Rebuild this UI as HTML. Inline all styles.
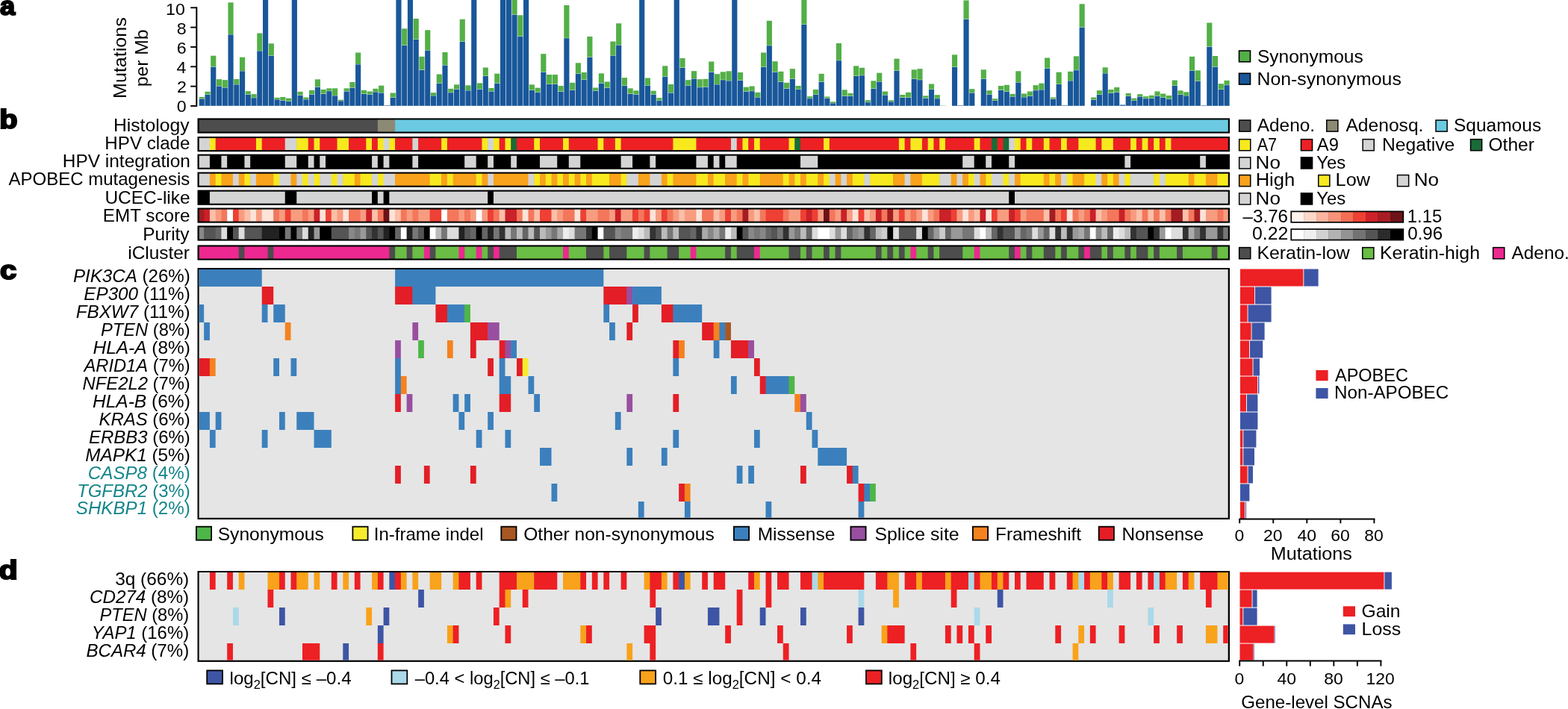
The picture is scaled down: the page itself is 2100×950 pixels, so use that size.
<!DOCTYPE html>
<html lang="en"><head><meta charset="utf-8"><title>Figure 1</title>
<style>
html,body{margin:0;padding:0;background:#fff;}
body{width:2100px;height:950px;overflow:hidden;}
svg{display:block;font-family:"Liberation Sans",sans-serif;}
</style></head><body>
<svg width="2100" height="950" viewBox="0 0 2100 950">
<rect width="2100" height="950" fill="#fff"/>
<g>
<rect x="266.67" y="132.50" width="7.15" height="9.30" fill="#19579a"/>
<rect x="266.67" y="130.00" width="7.15" height="2.15" fill="#53af47"/>
<rect x="274.43" y="127.00" width="7.15" height="14.80" fill="#19579a"/>
<rect x="274.43" y="122.83" width="7.15" height="3.82" fill="#53af47"/>
<rect x="282.18" y="89.67" width="7.15" height="52.13" fill="#19579a"/>
<rect x="282.18" y="74.67" width="7.15" height="14.65" fill="#53af47"/>
<rect x="289.94" y="115.50" width="7.15" height="26.30" fill="#19579a"/>
<rect x="289.94" y="106.17" width="7.15" height="8.98" fill="#53af47"/>
<rect x="297.69" y="117.50" width="7.15" height="24.30" fill="#19579a"/>
<rect x="297.69" y="107.17" width="7.15" height="9.98" fill="#53af47"/>
<rect x="305.45" y="46.33" width="7.15" height="95.47" fill="#19579a"/>
<rect x="305.45" y="3.33" width="7.15" height="42.65" fill="#53af47"/>
<rect x="313.21" y="113.33" width="7.15" height="28.47" fill="#19579a"/>
<rect x="313.21" y="106.00" width="7.15" height="6.98" fill="#53af47"/>
<rect x="320.96" y="95.33" width="7.15" height="46.47" fill="#19579a"/>
<rect x="320.96" y="76.67" width="7.15" height="18.32" fill="#53af47"/>
<rect x="328.72" y="126.67" width="7.15" height="15.13" fill="#19579a"/>
<rect x="328.72" y="122.17" width="7.15" height="4.15" fill="#53af47"/>
<rect x="336.47" y="131.17" width="7.15" height="10.63" fill="#19579a"/>
<rect x="336.47" y="126.17" width="7.15" height="4.65" fill="#53af47"/>
<rect x="344.23" y="68.33" width="7.15" height="73.47" fill="#19579a"/>
<rect x="344.23" y="44.50" width="7.15" height="23.48" fill="#53af47"/>
<rect x="351.99" y="0.00" width="7.15" height="141.80" fill="#19579a"/>
<rect x="359.74" y="74.67" width="7.15" height="67.13" fill="#19579a"/>
<rect x="359.74" y="58.33" width="7.15" height="15.98" fill="#53af47"/>
<rect x="367.50" y="133.33" width="7.15" height="8.47" fill="#19579a"/>
<rect x="367.50" y="130.83" width="7.15" height="2.15" fill="#53af47"/>
<rect x="375.25" y="134.67" width="7.15" height="7.13" fill="#19579a"/>
<rect x="375.25" y="130.00" width="7.15" height="4.32" fill="#53af47"/>
<rect x="383.01" y="135.83" width="7.15" height="5.97" fill="#19579a"/>
<rect x="383.01" y="131.67" width="7.15" height="3.82" fill="#53af47"/>
<rect x="390.77" y="0.00" width="7.15" height="141.80" fill="#19579a"/>
<rect x="398.52" y="127.83" width="7.15" height="13.97" fill="#19579a"/>
<rect x="398.52" y="122.83" width="7.15" height="4.65" fill="#53af47"/>
<rect x="406.28" y="133.33" width="7.15" height="8.47" fill="#19579a"/>
<rect x="406.28" y="130.50" width="7.15" height="2.48" fill="#53af47"/>
<rect x="414.03" y="126.67" width="7.15" height="15.13" fill="#19579a"/>
<rect x="414.03" y="120.83" width="7.15" height="5.48" fill="#53af47"/>
<rect x="421.79" y="116.67" width="7.15" height="25.13" fill="#19579a"/>
<rect x="421.79" y="106.33" width="7.15" height="9.98" fill="#53af47"/>
<rect x="429.55" y="125.83" width="7.15" height="15.97" fill="#19579a"/>
<rect x="429.55" y="120.00" width="7.15" height="5.48" fill="#53af47"/>
<rect x="437.30" y="122.17" width="7.15" height="19.63" fill="#19579a"/>
<rect x="437.30" y="118.33" width="7.15" height="3.48" fill="#53af47"/>
<rect x="445.06" y="128.33" width="7.15" height="13.47" fill="#19579a"/>
<rect x="445.06" y="118.33" width="7.15" height="9.65" fill="#53af47"/>
<rect x="452.81" y="135.33" width="7.15" height="6.47" fill="#19579a"/>
<rect x="452.81" y="133.67" width="7.15" height="1.32" fill="#53af47"/>
<rect x="460.57" y="122.50" width="7.15" height="19.30" fill="#19579a"/>
<rect x="460.57" y="118.33" width="7.15" height="3.82" fill="#53af47"/>
<rect x="468.33" y="118.00" width="7.15" height="23.80" fill="#19579a"/>
<rect x="468.33" y="110.00" width="7.15" height="7.65" fill="#53af47"/>
<rect x="476.08" y="86.33" width="7.15" height="55.47" fill="#19579a"/>
<rect x="476.08" y="70.50" width="7.15" height="15.48" fill="#53af47"/>
<rect x="483.84" y="125.83" width="7.15" height="15.97" fill="#19579a"/>
<rect x="483.84" y="120.83" width="7.15" height="4.65" fill="#53af47"/>
<rect x="491.59" y="126.67" width="7.15" height="15.13" fill="#19579a"/>
<rect x="491.59" y="122.50" width="7.15" height="3.82" fill="#53af47"/>
<rect x="499.35" y="123.33" width="7.15" height="18.47" fill="#19579a"/>
<rect x="499.35" y="118.83" width="7.15" height="4.15" fill="#53af47"/>
<rect x="507.11" y="124.50" width="7.15" height="17.30" fill="#19579a"/>
<rect x="507.11" y="114.67" width="7.15" height="9.48" fill="#53af47"/>
<rect x="514.86" y="141.10" width="7.15" height="0.70" fill="#4a6f9e"/>
<rect x="522.62" y="130.83" width="7.15" height="10.97" fill="#19579a"/>
<rect x="522.62" y="124.50" width="7.15" height="5.98" fill="#53af47"/>
<rect x="530.37" y="0.00" width="7.15" height="141.80" fill="#19579a"/>
<rect x="538.13" y="60.83" width="7.15" height="80.97" fill="#19579a"/>
<rect x="538.13" y="38.33" width="7.15" height="22.15" fill="#53af47"/>
<rect x="545.89" y="0.00" width="7.15" height="141.80" fill="#19579a"/>
<rect x="553.64" y="52.83" width="7.15" height="88.97" fill="#19579a"/>
<rect x="553.64" y="25.00" width="7.15" height="27.48" fill="#53af47"/>
<rect x="561.40" y="93.83" width="7.15" height="47.97" fill="#19579a"/>
<rect x="561.40" y="75.83" width="7.15" height="17.65" fill="#53af47"/>
<rect x="569.15" y="67.50" width="7.15" height="74.30" fill="#19579a"/>
<rect x="569.15" y="40.33" width="7.15" height="26.82" fill="#53af47"/>
<rect x="576.91" y="128.33" width="7.15" height="13.47" fill="#19579a"/>
<rect x="576.91" y="124.17" width="7.15" height="3.82" fill="#53af47"/>
<rect x="584.67" y="111.67" width="7.15" height="30.13" fill="#19579a"/>
<rect x="584.67" y="99.50" width="7.15" height="11.82" fill="#53af47"/>
<rect x="592.42" y="87.50" width="7.15" height="54.30" fill="#19579a"/>
<rect x="592.42" y="70.00" width="7.15" height="17.15" fill="#53af47"/>
<rect x="600.18" y="124.17" width="7.15" height="17.63" fill="#19579a"/>
<rect x="600.18" y="118.83" width="7.15" height="4.98" fill="#53af47"/>
<rect x="607.93" y="119.67" width="7.15" height="22.13" fill="#19579a"/>
<rect x="607.93" y="113.33" width="7.15" height="5.98" fill="#53af47"/>
<rect x="615.69" y="55.83" width="7.15" height="85.97" fill="#19579a"/>
<rect x="615.69" y="25.83" width="7.15" height="29.65" fill="#53af47"/>
<rect x="623.45" y="121.33" width="7.15" height="20.47" fill="#19579a"/>
<rect x="623.45" y="114.33" width="7.15" height="6.65" fill="#53af47"/>
<rect x="631.20" y="0.00" width="7.15" height="141.80" fill="#19579a"/>
<rect x="638.96" y="119.67" width="7.15" height="22.13" fill="#19579a"/>
<rect x="638.96" y="111.33" width="7.15" height="7.98" fill="#53af47"/>
<rect x="646.71" y="102.00" width="7.15" height="39.80" fill="#19579a"/>
<rect x="646.71" y="90.50" width="7.15" height="11.15" fill="#53af47"/>
<rect x="654.47" y="122.50" width="7.15" height="19.30" fill="#19579a"/>
<rect x="654.47" y="118.00" width="7.15" height="4.15" fill="#53af47"/>
<rect x="662.23" y="111.67" width="7.15" height="30.13" fill="#19579a"/>
<rect x="662.23" y="98.67" width="7.15" height="12.65" fill="#53af47"/>
<rect x="669.98" y="0.00" width="7.15" height="141.80" fill="#19579a"/>
<rect x="677.74" y="0.00" width="7.15" height="141.80" fill="#19579a"/>
<rect x="685.49" y="19.67" width="7.15" height="122.13" fill="#19579a"/>
<rect x="685.49" y="0.00" width="7.15" height="19.32" fill="#53af47"/>
<rect x="693.25" y="48.83" width="7.15" height="92.97" fill="#19579a"/>
<rect x="693.25" y="20.33" width="7.15" height="28.15" fill="#53af47"/>
<rect x="701.01" y="0.00" width="7.15" height="141.80" fill="#19579a"/>
<rect x="708.76" y="120.83" width="7.15" height="20.97" fill="#19579a"/>
<rect x="708.76" y="113.33" width="7.15" height="7.15" fill="#53af47"/>
<rect x="716.52" y="123.83" width="7.15" height="17.97" fill="#19579a"/>
<rect x="716.52" y="117.67" width="7.15" height="5.82" fill="#53af47"/>
<rect x="724.27" y="96.67" width="7.15" height="45.13" fill="#19579a"/>
<rect x="724.27" y="72.17" width="7.15" height="24.15" fill="#53af47"/>
<rect x="732.03" y="113.00" width="7.15" height="28.80" fill="#19579a"/>
<rect x="732.03" y="100.00" width="7.15" height="12.65" fill="#53af47"/>
<rect x="739.79" y="113.00" width="7.15" height="28.80" fill="#19579a"/>
<rect x="739.79" y="100.00" width="7.15" height="12.65" fill="#53af47"/>
<rect x="747.54" y="122.83" width="7.15" height="18.97" fill="#19579a"/>
<rect x="747.54" y="115.00" width="7.15" height="7.48" fill="#53af47"/>
<rect x="755.30" y="51.17" width="7.15" height="90.63" fill="#19579a"/>
<rect x="755.30" y="7.00" width="7.15" height="43.82" fill="#53af47"/>
<rect x="763.05" y="120.83" width="7.15" height="20.97" fill="#19579a"/>
<rect x="763.05" y="110.83" width="7.15" height="9.65" fill="#53af47"/>
<rect x="770.81" y="98.83" width="7.15" height="42.97" fill="#19579a"/>
<rect x="770.81" y="84.33" width="7.15" height="14.15" fill="#53af47"/>
<rect x="778.57" y="107.00" width="7.15" height="34.80" fill="#19579a"/>
<rect x="778.57" y="97.00" width="7.15" height="9.65" fill="#53af47"/>
<rect x="786.32" y="76.67" width="7.15" height="65.13" fill="#19579a"/>
<rect x="786.32" y="49.00" width="7.15" height="27.32" fill="#53af47"/>
<rect x="794.08" y="121.67" width="7.15" height="20.13" fill="#19579a"/>
<rect x="794.08" y="117.50" width="7.15" height="3.82" fill="#53af47"/>
<rect x="801.83" y="111.67" width="7.15" height="30.13" fill="#19579a"/>
<rect x="801.83" y="98.33" width="7.15" height="12.98" fill="#53af47"/>
<rect x="809.59" y="117.83" width="7.15" height="23.97" fill="#19579a"/>
<rect x="809.59" y="109.50" width="7.15" height="7.98" fill="#53af47"/>
<rect x="817.35" y="74.50" width="7.15" height="67.30" fill="#19579a"/>
<rect x="817.35" y="55.50" width="7.15" height="18.65" fill="#53af47"/>
<rect x="825.10" y="60.50" width="7.15" height="81.30" fill="#19579a"/>
<rect x="825.10" y="31.33" width="7.15" height="28.82" fill="#53af47"/>
<rect x="832.86" y="115.00" width="7.15" height="26.80" fill="#19579a"/>
<rect x="832.86" y="104.17" width="7.15" height="10.48" fill="#53af47"/>
<rect x="840.61" y="125.83" width="7.15" height="15.97" fill="#19579a"/>
<rect x="840.61" y="118.33" width="7.15" height="7.15" fill="#53af47"/>
<rect x="848.37" y="126.67" width="7.15" height="15.13" fill="#19579a"/>
<rect x="848.37" y="121.33" width="7.15" height="4.98" fill="#53af47"/>
<rect x="856.13" y="0.00" width="7.15" height="141.80" fill="#19579a"/>
<rect x="863.88" y="114.67" width="7.15" height="27.13" fill="#19579a"/>
<rect x="863.88" y="104.50" width="7.15" height="9.82" fill="#53af47"/>
<rect x="871.64" y="126.67" width="7.15" height="15.13" fill="#19579a"/>
<rect x="871.64" y="121.67" width="7.15" height="4.65" fill="#53af47"/>
<rect x="879.39" y="135.00" width="7.15" height="6.80" fill="#19579a"/>
<rect x="879.39" y="131.17" width="7.15" height="3.48" fill="#53af47"/>
<rect x="887.15" y="102.83" width="7.15" height="38.97" fill="#19579a"/>
<rect x="887.15" y="88.33" width="7.15" height="14.15" fill="#53af47"/>
<rect x="894.91" y="124.50" width="7.15" height="17.30" fill="#19579a"/>
<rect x="894.91" y="113.00" width="7.15" height="11.15" fill="#53af47"/>
<rect x="902.66" y="0.00" width="7.15" height="141.80" fill="#19579a"/>
<rect x="910.42" y="90.83" width="7.15" height="50.97" fill="#19579a"/>
<rect x="910.42" y="78.00" width="7.15" height="12.48" fill="#53af47"/>
<rect x="918.17" y="115.00" width="7.15" height="26.80" fill="#19579a"/>
<rect x="918.17" y="107.17" width="7.15" height="7.48" fill="#53af47"/>
<rect x="925.93" y="105.50" width="7.15" height="36.30" fill="#19579a"/>
<rect x="925.93" y="95.17" width="7.15" height="9.98" fill="#53af47"/>
<rect x="933.69" y="117.17" width="7.15" height="24.63" fill="#19579a"/>
<rect x="933.69" y="106.17" width="7.15" height="10.65" fill="#53af47"/>
<rect x="941.44" y="116.67" width="7.15" height="25.13" fill="#19579a"/>
<rect x="941.44" y="105.83" width="7.15" height="10.48" fill="#53af47"/>
<rect x="949.20" y="96.67" width="7.15" height="45.13" fill="#19579a"/>
<rect x="949.20" y="82.50" width="7.15" height="13.82" fill="#53af47"/>
<rect x="956.95" y="113.33" width="7.15" height="28.47" fill="#19579a"/>
<rect x="956.95" y="99.17" width="7.15" height="13.82" fill="#53af47"/>
<rect x="964.71" y="107.17" width="7.15" height="34.63" fill="#19579a"/>
<rect x="964.71" y="96.33" width="7.15" height="10.48" fill="#53af47"/>
<rect x="972.47" y="108.33" width="7.15" height="33.47" fill="#19579a"/>
<rect x="972.47" y="95.33" width="7.15" height="12.65" fill="#53af47"/>
<rect x="980.22" y="0.00" width="7.15" height="141.80" fill="#19579a"/>
<rect x="987.98" y="107.83" width="7.15" height="33.97" fill="#19579a"/>
<rect x="987.98" y="97.00" width="7.15" height="10.48" fill="#53af47"/>
<rect x="995.73" y="122.83" width="7.15" height="18.97" fill="#19579a"/>
<rect x="995.73" y="116.67" width="7.15" height="5.82" fill="#53af47"/>
<rect x="1003.49" y="122.17" width="7.15" height="19.63" fill="#19579a"/>
<rect x="1003.49" y="115.50" width="7.15" height="6.32" fill="#53af47"/>
<rect x="1011.25" y="130.50" width="7.15" height="11.30" fill="#19579a"/>
<rect x="1011.25" y="123.83" width="7.15" height="6.32" fill="#53af47"/>
<rect x="1019.00" y="90.00" width="7.15" height="51.80" fill="#19579a"/>
<rect x="1019.00" y="70.50" width="7.15" height="19.15" fill="#53af47"/>
<rect x="1026.76" y="61.17" width="7.15" height="80.63" fill="#19579a"/>
<rect x="1026.76" y="27.83" width="7.15" height="32.98" fill="#53af47"/>
<rect x="1034.51" y="96.67" width="7.15" height="45.13" fill="#19579a"/>
<rect x="1034.51" y="82.17" width="7.15" height="14.15" fill="#53af47"/>
<rect x="1042.27" y="110.00" width="7.15" height="31.80" fill="#19579a"/>
<rect x="1042.27" y="95.83" width="7.15" height="13.82" fill="#53af47"/>
<rect x="1050.03" y="118.83" width="7.15" height="22.97" fill="#19579a"/>
<rect x="1050.03" y="110.83" width="7.15" height="7.65" fill="#53af47"/>
<rect x="1057.78" y="105.83" width="7.15" height="35.97" fill="#19579a"/>
<rect x="1057.78" y="92.17" width="7.15" height="13.32" fill="#53af47"/>
<rect x="1065.54" y="120.00" width="7.15" height="21.80" fill="#19579a"/>
<rect x="1065.54" y="115.00" width="7.15" height="4.65" fill="#53af47"/>
<rect x="1073.29" y="33.00" width="7.15" height="108.80" fill="#19579a"/>
<rect x="1073.29" y="0.00" width="7.15" height="32.65" fill="#53af47"/>
<rect x="1081.05" y="132.17" width="7.15" height="9.63" fill="#19579a"/>
<rect x="1081.05" y="129.17" width="7.15" height="2.65" fill="#53af47"/>
<rect x="1088.81" y="127.00" width="7.15" height="14.80" fill="#19579a"/>
<rect x="1088.81" y="120.00" width="7.15" height="6.65" fill="#53af47"/>
<rect x="1096.56" y="109.67" width="7.15" height="32.13" fill="#19579a"/>
<rect x="1096.56" y="98.83" width="7.15" height="10.48" fill="#53af47"/>
<rect x="1104.32" y="131.67" width="7.15" height="10.13" fill="#19579a"/>
<rect x="1104.32" y="129.50" width="7.15" height="1.82" fill="#53af47"/>
<rect x="1112.07" y="138.33" width="7.15" height="3.47" fill="#19579a"/>
<rect x="1112.07" y="136.33" width="7.15" height="1.65" fill="#53af47"/>
<rect x="1119.83" y="81.17" width="7.15" height="60.63" fill="#19579a"/>
<rect x="1119.83" y="58.00" width="7.15" height="22.82" fill="#53af47"/>
<rect x="1127.59" y="128.67" width="7.15" height="13.13" fill="#19579a"/>
<rect x="1127.59" y="120.33" width="7.15" height="7.98" fill="#53af47"/>
<rect x="1135.34" y="128.83" width="7.15" height="12.97" fill="#19579a"/>
<rect x="1135.34" y="125.00" width="7.15" height="3.48" fill="#53af47"/>
<rect x="1143.10" y="102.00" width="7.15" height="39.80" fill="#19579a"/>
<rect x="1143.10" y="88.33" width="7.15" height="13.32" fill="#53af47"/>
<rect x="1150.85" y="101.17" width="7.15" height="40.63" fill="#19579a"/>
<rect x="1150.85" y="90.83" width="7.15" height="9.98" fill="#53af47"/>
<rect x="1158.61" y="137.17" width="7.15" height="4.63" fill="#19579a"/>
<rect x="1158.61" y="134.17" width="7.15" height="2.65" fill="#53af47"/>
<rect x="1166.37" y="118.83" width="7.15" height="22.97" fill="#19579a"/>
<rect x="1166.37" y="108.33" width="7.15" height="10.15" fill="#53af47"/>
<rect x="1174.12" y="109.50" width="7.15" height="32.30" fill="#19579a"/>
<rect x="1174.12" y="97.67" width="7.15" height="11.48" fill="#53af47"/>
<rect x="1181.88" y="127.50" width="7.15" height="14.30" fill="#19579a"/>
<rect x="1181.88" y="122.50" width="7.15" height="4.65" fill="#53af47"/>
<rect x="1189.63" y="136.33" width="7.15" height="5.47" fill="#19579a"/>
<rect x="1189.63" y="134.33" width="7.15" height="1.65" fill="#53af47"/>
<rect x="1197.39" y="95.00" width="7.15" height="46.80" fill="#19579a"/>
<rect x="1197.39" y="78.67" width="7.15" height="15.98" fill="#53af47"/>
<rect x="1205.15" y="130.83" width="7.15" height="10.97" fill="#19579a"/>
<rect x="1205.15" y="127.00" width="7.15" height="3.48" fill="#53af47"/>
<rect x="1212.90" y="130.83" width="7.15" height="10.97" fill="#19579a"/>
<rect x="1212.90" y="123.83" width="7.15" height="6.65" fill="#53af47"/>
<rect x="1220.66" y="105.83" width="7.15" height="35.97" fill="#19579a"/>
<rect x="1220.66" y="93.33" width="7.15" height="12.15" fill="#53af47"/>
<rect x="1228.41" y="107.17" width="7.15" height="34.63" fill="#19579a"/>
<rect x="1228.41" y="92.17" width="7.15" height="14.65" fill="#53af47"/>
<rect x="1236.17" y="131.67" width="7.15" height="10.13" fill="#19579a"/>
<rect x="1236.17" y="128.33" width="7.15" height="2.98" fill="#53af47"/>
<rect x="1243.93" y="120.00" width="7.15" height="21.80" fill="#19579a"/>
<rect x="1243.93" y="112.50" width="7.15" height="7.15" fill="#53af47"/>
<rect x="1251.68" y="132.17" width="7.15" height="9.63" fill="#19579a"/>
<rect x="1251.68" y="127.17" width="7.15" height="4.65" fill="#53af47"/>
<rect x="1259.44" y="141.00" width="7.15" height="0.80" fill="#b5dcae"/>
<rect x="1274.95" y="90.00" width="7.15" height="51.80" fill="#19579a"/>
<rect x="1274.95" y="73.33" width="7.15" height="16.32" fill="#53af47"/>
<rect x="1282.71" y="141.10" width="7.15" height="0.70" fill="#4a6f9e"/>
<rect x="1290.46" y="25.83" width="7.15" height="115.97" fill="#19579a"/>
<rect x="1290.46" y="0.50" width="7.15" height="24.98" fill="#53af47"/>
<rect x="1298.22" y="124.50" width="7.15" height="17.30" fill="#19579a"/>
<rect x="1298.22" y="119.17" width="7.15" height="4.98" fill="#53af47"/>
<rect x="1313.73" y="105.83" width="7.15" height="35.97" fill="#19579a"/>
<rect x="1313.73" y="93.33" width="7.15" height="12.15" fill="#53af47"/>
<rect x="1321.49" y="126.67" width="7.15" height="15.13" fill="#19579a"/>
<rect x="1321.49" y="121.17" width="7.15" height="5.15" fill="#53af47"/>
<rect x="1329.24" y="135.00" width="7.15" height="6.80" fill="#19579a"/>
<rect x="1329.24" y="132.17" width="7.15" height="2.48" fill="#53af47"/>
<rect x="1337.00" y="120.83" width="7.15" height="20.97" fill="#19579a"/>
<rect x="1337.00" y="115.00" width="7.15" height="5.48" fill="#53af47"/>
<rect x="1344.75" y="122.83" width="7.15" height="18.97" fill="#19579a"/>
<rect x="1344.75" y="113.83" width="7.15" height="8.65" fill="#53af47"/>
<rect x="1352.51" y="129.50" width="7.15" height="12.30" fill="#19579a"/>
<rect x="1352.51" y="125.83" width="7.15" height="3.32" fill="#53af47"/>
<rect x="1360.27" y="110.50" width="7.15" height="31.30" fill="#19579a"/>
<rect x="1360.27" y="95.33" width="7.15" height="14.82" fill="#53af47"/>
<rect x="1368.02" y="130.33" width="7.15" height="11.47" fill="#19579a"/>
<rect x="1368.02" y="125.50" width="7.15" height="4.48" fill="#53af47"/>
<rect x="1375.78" y="128.83" width="7.15" height="12.97" fill="#19579a"/>
<rect x="1375.78" y="122.50" width="7.15" height="5.98" fill="#53af47"/>
<rect x="1383.53" y="121.17" width="7.15" height="20.63" fill="#19579a"/>
<rect x="1383.53" y="114.17" width="7.15" height="6.65" fill="#53af47"/>
<rect x="1391.29" y="120.33" width="7.15" height="21.47" fill="#19579a"/>
<rect x="1391.29" y="111.67" width="7.15" height="8.32" fill="#53af47"/>
<rect x="1399.05" y="91.67" width="7.15" height="50.13" fill="#19579a"/>
<rect x="1399.05" y="77.50" width="7.15" height="13.82" fill="#53af47"/>
<rect x="1406.80" y="132.83" width="7.15" height="8.97" fill="#19579a"/>
<rect x="1406.80" y="130.50" width="7.15" height="1.98" fill="#53af47"/>
<rect x="1414.56" y="113.00" width="7.15" height="28.80" fill="#19579a"/>
<rect x="1414.56" y="96.67" width="7.15" height="15.98" fill="#53af47"/>
<rect x="1422.31" y="141.10" width="7.15" height="0.70" fill="#4a6f9e"/>
<rect x="1430.07" y="108.33" width="7.15" height="33.47" fill="#19579a"/>
<rect x="1430.07" y="95.83" width="7.15" height="12.15" fill="#53af47"/>
<rect x="1437.83" y="94.17" width="7.15" height="47.63" fill="#19579a"/>
<rect x="1437.83" y="75.33" width="7.15" height="18.48" fill="#53af47"/>
<rect x="1445.58" y="36.67" width="7.15" height="105.13" fill="#19579a"/>
<rect x="1445.58" y="5.33" width="7.15" height="30.98" fill="#53af47"/>
<rect x="1461.09" y="133.67" width="7.15" height="8.13" fill="#19579a"/>
<rect x="1461.09" y="130.50" width="7.15" height="2.82" fill="#53af47"/>
<rect x="1468.85" y="127.00" width="7.15" height="14.80" fill="#19579a"/>
<rect x="1468.85" y="121.17" width="7.15" height="5.48" fill="#53af47"/>
<rect x="1476.61" y="98.33" width="7.15" height="43.47" fill="#19579a"/>
<rect x="1476.61" y="90.33" width="7.15" height="7.65" fill="#53af47"/>
<rect x="1484.36" y="125.00" width="7.15" height="16.80" fill="#19579a"/>
<rect x="1484.36" y="120.00" width="7.15" height="4.65" fill="#53af47"/>
<rect x="1492.12" y="123.67" width="7.15" height="18.13" fill="#19579a"/>
<rect x="1492.12" y="117.00" width="7.15" height="6.32" fill="#53af47"/>
<rect x="1499.87" y="140.50" width="7.15" height="1.30" fill="#19579a"/>
<rect x="1507.63" y="128.83" width="7.15" height="12.97" fill="#19579a"/>
<rect x="1507.63" y="125.00" width="7.15" height="3.48" fill="#53af47"/>
<rect x="1515.39" y="135.00" width="7.15" height="6.80" fill="#19579a"/>
<rect x="1515.39" y="131.67" width="7.15" height="2.98" fill="#53af47"/>
<rect x="1523.14" y="129.50" width="7.15" height="12.30" fill="#19579a"/>
<rect x="1523.14" y="126.17" width="7.15" height="2.98" fill="#53af47"/>
<rect x="1530.90" y="132.17" width="7.15" height="9.63" fill="#19579a"/>
<rect x="1530.90" y="129.17" width="7.15" height="2.65" fill="#53af47"/>
<rect x="1538.65" y="132.00" width="7.15" height="9.80" fill="#19579a"/>
<rect x="1538.65" y="127.83" width="7.15" height="3.82" fill="#53af47"/>
<rect x="1546.41" y="128.67" width="7.15" height="13.13" fill="#19579a"/>
<rect x="1546.41" y="122.50" width="7.15" height="5.82" fill="#53af47"/>
<rect x="1554.17" y="130.83" width="7.15" height="10.97" fill="#19579a"/>
<rect x="1554.17" y="125.50" width="7.15" height="4.98" fill="#53af47"/>
<rect x="1561.92" y="132.83" width="7.15" height="8.97" fill="#19579a"/>
<rect x="1561.92" y="128.00" width="7.15" height="4.48" fill="#53af47"/>
<rect x="1569.68" y="115.00" width="7.15" height="26.80" fill="#19579a"/>
<rect x="1569.68" y="107.50" width="7.15" height="7.15" fill="#53af47"/>
<rect x="1577.43" y="127.00" width="7.15" height="14.80" fill="#19579a"/>
<rect x="1577.43" y="121.33" width="7.15" height="5.32" fill="#53af47"/>
<rect x="1585.19" y="128.33" width="7.15" height="13.47" fill="#19579a"/>
<rect x="1585.19" y="123.33" width="7.15" height="4.65" fill="#53af47"/>
<rect x="1592.95" y="95.00" width="7.15" height="46.80" fill="#19579a"/>
<rect x="1592.95" y="75.83" width="7.15" height="18.82" fill="#53af47"/>
<rect x="1600.70" y="108.67" width="7.15" height="33.13" fill="#19579a"/>
<rect x="1600.70" y="94.33" width="7.15" height="13.98" fill="#53af47"/>
<rect x="1608.46" y="141.10" width="7.15" height="0.70" fill="#4a6f9e"/>
<rect x="1616.21" y="62.83" width="7.15" height="78.97" fill="#19579a"/>
<rect x="1616.21" y="30.50" width="7.15" height="31.98" fill="#53af47"/>
<rect x="1623.97" y="89.67" width="7.15" height="52.13" fill="#19579a"/>
<rect x="1623.97" y="75.00" width="7.15" height="14.32" fill="#53af47"/>
<rect x="1631.73" y="120.00" width="7.15" height="21.80" fill="#19579a"/>
<rect x="1631.73" y="112.17" width="7.15" height="7.48" fill="#53af47"/>
<rect x="1639.48" y="114.17" width="7.15" height="27.63" fill="#19579a"/>
<rect x="1639.48" y="107.83" width="7.15" height="5.98" fill="#53af47"/>
</g>
<path d="M263.3,9.4V142.9" stroke="#000" stroke-width="2" fill="none"/>
<path d="M255.2,142.00H263.3" stroke="#000" stroke-width="1.9" fill="none"/>
<path d="M255.2,115.66H263.3" stroke="#000" stroke-width="1.9" fill="none"/>
<path d="M255.2,89.32H263.3" stroke="#000" stroke-width="1.9" fill="none"/>
<path d="M255.2,62.98H263.3" stroke="#000" stroke-width="1.9" fill="none"/>
<path d="M255.2,36.64H263.3" stroke="#000" stroke-width="1.9" fill="none"/>
<path d="M255.2,10.30H263.3" stroke="#000" stroke-width="1.9" fill="none"/>
<text transform="translate(236.64,149.60) scale(1.0400,1.0)" font-size="22.3" fill="#000" xml:space="preserve"><tspan>0</tspan></text>
<text transform="translate(236.99,123.68) scale(1.0400,1.0)" font-size="22.3" fill="#000" xml:space="preserve"><tspan>2</tspan></text>
<text transform="translate(236.41,97.76) scale(1.0400,1.0)" font-size="22.3" fill="#000" xml:space="preserve"><tspan>4</tspan></text>
<text transform="translate(236.76,71.84) scale(1.0400,1.0)" font-size="22.3" fill="#000" xml:space="preserve"><tspan>6</tspan></text>
<text transform="translate(236.76,45.92) scale(1.0400,1.0)" font-size="22.3" fill="#000" xml:space="preserve"><tspan>8</tspan></text>
<text transform="translate(222.07,20.00) scale(1.0359,1.0)" font-size="22.3" fill="#000" xml:space="preserve"><tspan>10</tspan></text>
<text transform="translate(168.90,130.00) rotate(-90) translate(-2.01,0) scale(1.0734,1)" font-size="23.4" fill="#000">Mutations</text>
<text transform="translate(198.00,114.60) rotate(-90) translate(-1.60,0) scale(1.0524,1)" font-size="23.4" fill="#000">per Mb</text>
<rect x="1659.50" y="68.00" width="15.00" height="14.80" fill="#53af47" stroke="#000" stroke-width="1.6"/>
<rect x="1659.50" y="98.30" width="15.00" height="14.80" fill="#19579a" stroke="#000" stroke-width="1.6"/>
<text transform="translate(1683.89,83.70) scale(1.0496,1.0)" font-size="23.4" fill="#000" xml:space="preserve"><tspan>Synonymous</tspan></text>
<text transform="translate(1683.51,113.90) scale(1.0621,1.0)" font-size="23.4" fill="#000" xml:space="preserve"><tspan>Non-synonymous</tspan></text>
<text transform="translate(0.11,20.00) scale(1.0360,1.0)" font-size="35" font-weight="bold" fill="#000" stroke="#000" stroke-width="2.1" stroke-linejoin="miter">a</text>
<text transform="translate(-0.79,172.10) scale(1.1372,1.0)" font-size="35" font-weight="bold" fill="#000" stroke="#000" stroke-width="2.1" stroke-linejoin="miter">b</text>
<text transform="translate(0.00,374.10) scale(1.1429,1.0)" font-size="35" font-weight="bold" fill="#000" stroke="#000" stroke-width="2.1" stroke-linejoin="miter">c</text>
<text transform="translate(-1.45,775.90) scale(1.1768,1.0)" font-size="35" font-weight="bold" fill="#000" stroke="#000" stroke-width="2.1" stroke-linejoin="miter">d</text>
<g>
<rect x="264.50" y="158.40" width="1382.50" height="20.20" fill="#000"/>
<rect x="266.70" y="160.50" width="239.74" height="16.00" fill="#4d4d4d"/>
<rect x="505.84" y="160.50" width="23.87" height="16.00" fill="#8c8a74"/>
<rect x="529.10" y="160.50" width="1115.70" height="16.00" fill="#6bcae1"/>
</g>
<g>
<rect x="264.50" y="183.00" width="1382.50" height="20.20" fill="#000"/>
<rect x="266.70" y="185.10" width="14.81" height="16.00" fill="#d4d4d4"/>
<rect x="280.91" y="185.10" width="8.36" height="16.00" fill="#f7e91e"/>
<rect x="288.67" y="185.10" width="54.89" height="16.00" fill="#ed2024"/>
<rect x="342.96" y="185.10" width="8.36" height="16.00" fill="#f7e91e"/>
<rect x="350.72" y="185.10" width="31.62" height="16.00" fill="#ed2024"/>
<rect x="381.74" y="185.10" width="16.11" height="16.00" fill="#d4d4d4"/>
<rect x="397.25" y="185.10" width="16.11" height="16.00" fill="#f7e91e"/>
<rect x="412.76" y="185.10" width="8.36" height="16.00" fill="#ed2024"/>
<rect x="420.52" y="185.10" width="8.36" height="16.00" fill="#f7e91e"/>
<rect x="428.28" y="185.10" width="23.87" height="16.00" fill="#ed2024"/>
<rect x="451.54" y="185.10" width="16.11" height="16.00" fill="#f7e91e"/>
<rect x="467.06" y="185.10" width="23.87" height="16.00" fill="#ed2024"/>
<rect x="490.32" y="185.10" width="8.36" height="16.00" fill="#f7e91e"/>
<rect x="498.08" y="185.10" width="8.36" height="16.00" fill="#ed2024"/>
<rect x="505.84" y="185.10" width="8.36" height="16.00" fill="#f7e91e"/>
<rect x="513.59" y="185.10" width="8.36" height="16.00" fill="#d4d4d4"/>
<rect x="521.35" y="185.10" width="8.36" height="16.00" fill="#f7e91e"/>
<rect x="529.10" y="185.10" width="23.87" height="16.00" fill="#ed2024"/>
<rect x="552.37" y="185.10" width="8.36" height="16.00" fill="#d4d4d4"/>
<rect x="560.13" y="185.10" width="31.62" height="16.00" fill="#ed2024"/>
<rect x="591.15" y="185.10" width="8.36" height="16.00" fill="#f7e91e"/>
<rect x="598.91" y="185.10" width="47.14" height="16.00" fill="#ed2024"/>
<rect x="645.44" y="185.10" width="8.36" height="16.00" fill="#f7e91e"/>
<rect x="653.20" y="185.10" width="8.36" height="16.00" fill="#d4d4d4"/>
<rect x="660.96" y="185.10" width="8.36" height="16.00" fill="#f7e91e"/>
<rect x="668.71" y="185.10" width="8.36" height="16.00" fill="#ed2024"/>
<rect x="676.47" y="185.10" width="8.36" height="16.00" fill="#f7e91e"/>
<rect x="684.22" y="185.10" width="8.36" height="16.00" fill="#1b6b38"/>
<rect x="691.98" y="185.10" width="23.87" height="16.00" fill="#ed2024"/>
<rect x="715.25" y="185.10" width="8.36" height="16.00" fill="#f7e91e"/>
<rect x="723.00" y="185.10" width="31.62" height="16.00" fill="#ed2024"/>
<rect x="754.03" y="185.10" width="8.36" height="16.00" fill="#f7e91e"/>
<rect x="761.78" y="185.10" width="39.38" height="16.00" fill="#ed2024"/>
<rect x="800.56" y="185.10" width="8.36" height="16.00" fill="#f7e91e"/>
<rect x="808.32" y="185.10" width="16.11" height="16.00" fill="#ed2024"/>
<rect x="823.83" y="185.10" width="8.36" height="16.00" fill="#f7e91e"/>
<rect x="831.59" y="185.10" width="70.40" height="16.00" fill="#ed2024"/>
<rect x="901.39" y="185.10" width="31.62" height="16.00" fill="#f7e91e"/>
<rect x="932.42" y="185.10" width="47.14" height="16.00" fill="#ed2024"/>
<rect x="978.95" y="185.10" width="8.36" height="16.00" fill="#d4d4d4"/>
<rect x="986.71" y="185.10" width="8.36" height="16.00" fill="#ed2024"/>
<rect x="994.46" y="185.10" width="8.36" height="16.00" fill="#f7e91e"/>
<rect x="1002.22" y="185.10" width="8.36" height="16.00" fill="#ed2024"/>
<rect x="1009.98" y="185.10" width="8.36" height="16.00" fill="#f7e91e"/>
<rect x="1017.73" y="185.10" width="39.38" height="16.00" fill="#ed2024"/>
<rect x="1056.51" y="185.10" width="8.36" height="16.00" fill="#f7e91e"/>
<rect x="1064.27" y="185.10" width="8.36" height="16.00" fill="#1b6b38"/>
<rect x="1072.02" y="185.10" width="31.62" height="16.00" fill="#ed2024"/>
<rect x="1103.05" y="185.10" width="8.36" height="16.00" fill="#f7e91e"/>
<rect x="1110.80" y="185.10" width="93.67" height="16.00" fill="#ed2024"/>
<rect x="1203.88" y="185.10" width="8.36" height="16.00" fill="#f7e91e"/>
<rect x="1211.63" y="185.10" width="8.36" height="16.00" fill="#ed2024"/>
<rect x="1219.39" y="185.10" width="16.11" height="16.00" fill="#f7e91e"/>
<rect x="1234.90" y="185.10" width="8.36" height="16.00" fill="#ed2024"/>
<rect x="1242.66" y="185.10" width="8.36" height="16.00" fill="#f7e91e"/>
<rect x="1250.41" y="185.10" width="8.36" height="16.00" fill="#ed2024"/>
<rect x="1258.17" y="185.10" width="8.36" height="16.00" fill="#f7e91e"/>
<rect x="1265.92" y="185.10" width="39.38" height="16.00" fill="#ed2024"/>
<rect x="1304.70" y="185.10" width="8.36" height="16.00" fill="#f7e91e"/>
<rect x="1312.46" y="185.10" width="16.11" height="16.00" fill="#ed2024"/>
<rect x="1327.97" y="185.10" width="8.36" height="16.00" fill="#1b6b38"/>
<rect x="1335.73" y="185.10" width="8.36" height="16.00" fill="#ed2024"/>
<rect x="1343.48" y="185.10" width="8.36" height="16.00" fill="#1b6b38"/>
<rect x="1351.24" y="185.10" width="8.36" height="16.00" fill="#d4d4d4"/>
<rect x="1359.00" y="185.10" width="8.36" height="16.00" fill="#f7e91e"/>
<rect x="1366.75" y="185.10" width="8.36" height="16.00" fill="#ed2024"/>
<rect x="1374.51" y="185.10" width="8.36" height="16.00" fill="#f7e91e"/>
<rect x="1382.26" y="185.10" width="16.11" height="16.00" fill="#ed2024"/>
<rect x="1397.78" y="185.10" width="8.36" height="16.00" fill="#f7e91e"/>
<rect x="1405.53" y="185.10" width="16.11" height="16.00" fill="#ed2024"/>
<rect x="1421.04" y="185.10" width="8.36" height="16.00" fill="#f7e91e"/>
<rect x="1428.80" y="185.10" width="16.11" height="16.00" fill="#ed2024"/>
<rect x="1444.31" y="185.10" width="23.87" height="16.00" fill="#f7e91e"/>
<rect x="1467.58" y="185.10" width="8.36" height="16.00" fill="#ed2024"/>
<rect x="1475.34" y="185.10" width="16.11" height="16.00" fill="#f7e91e"/>
<rect x="1490.85" y="185.10" width="23.87" height="16.00" fill="#ed2024"/>
<rect x="1514.12" y="185.10" width="8.36" height="16.00" fill="#f7e91e"/>
<rect x="1521.87" y="185.10" width="8.36" height="16.00" fill="#ed2024"/>
<rect x="1529.63" y="185.10" width="8.36" height="16.00" fill="#f7e91e"/>
<rect x="1537.38" y="185.10" width="8.36" height="16.00" fill="#ed2024"/>
<rect x="1545.14" y="185.10" width="8.36" height="16.00" fill="#f7e91e"/>
<rect x="1552.90" y="185.10" width="8.36" height="16.00" fill="#ed2024"/>
<rect x="1560.65" y="185.10" width="8.36" height="16.00" fill="#f7e91e"/>
<rect x="1568.41" y="185.10" width="76.39" height="16.00" fill="#ed2024"/>
</g>
<g>
<rect x="264.50" y="206.60" width="1382.50" height="20.20" fill="#000"/>
<rect x="266.70" y="208.70" width="14.81" height="16.00" fill="#d4d4d4"/>
<rect x="280.91" y="208.70" width="16.11" height="16.00" fill="#000"/>
<rect x="296.42" y="208.70" width="8.36" height="16.00" fill="#d4d4d4"/>
<rect x="304.18" y="208.70" width="23.87" height="16.00" fill="#000"/>
<rect x="327.45" y="208.70" width="8.36" height="16.00" fill="#d4d4d4"/>
<rect x="335.20" y="208.70" width="47.14" height="16.00" fill="#000"/>
<rect x="381.74" y="208.70" width="16.11" height="16.00" fill="#d4d4d4"/>
<rect x="397.25" y="208.70" width="16.11" height="16.00" fill="#000"/>
<rect x="412.76" y="208.70" width="8.36" height="16.00" fill="#d4d4d4"/>
<rect x="420.52" y="208.70" width="8.36" height="16.00" fill="#000"/>
<rect x="428.28" y="208.70" width="8.36" height="16.00" fill="#d4d4d4"/>
<rect x="436.03" y="208.70" width="62.65" height="16.00" fill="#000"/>
<rect x="498.08" y="208.70" width="8.36" height="16.00" fill="#d4d4d4"/>
<rect x="505.84" y="208.70" width="8.36" height="16.00" fill="#000"/>
<rect x="513.59" y="208.70" width="8.36" height="16.00" fill="#d4d4d4"/>
<rect x="521.35" y="208.70" width="31.62" height="16.00" fill="#000"/>
<rect x="552.37" y="208.70" width="8.36" height="16.00" fill="#d4d4d4"/>
<rect x="560.13" y="208.70" width="62.65" height="16.00" fill="#000"/>
<rect x="622.18" y="208.70" width="16.11" height="16.00" fill="#d4d4d4"/>
<rect x="637.69" y="208.70" width="16.11" height="16.00" fill="#000"/>
<rect x="653.20" y="208.70" width="8.36" height="16.00" fill="#d4d4d4"/>
<rect x="660.96" y="208.70" width="23.87" height="16.00" fill="#000"/>
<rect x="684.22" y="208.70" width="8.36" height="16.00" fill="#d4d4d4"/>
<rect x="691.98" y="208.70" width="31.62" height="16.00" fill="#000"/>
<rect x="723.00" y="208.70" width="23.87" height="16.00" fill="#d4d4d4"/>
<rect x="746.27" y="208.70" width="16.11" height="16.00" fill="#000"/>
<rect x="761.78" y="208.70" width="16.11" height="16.00" fill="#d4d4d4"/>
<rect x="777.30" y="208.70" width="54.89" height="16.00" fill="#000"/>
<rect x="831.59" y="208.70" width="16.11" height="16.00" fill="#d4d4d4"/>
<rect x="847.10" y="208.70" width="23.87" height="16.00" fill="#000"/>
<rect x="870.37" y="208.70" width="8.36" height="16.00" fill="#d4d4d4"/>
<rect x="878.12" y="208.70" width="54.89" height="16.00" fill="#000"/>
<rect x="932.42" y="208.70" width="16.11" height="16.00" fill="#d4d4d4"/>
<rect x="947.93" y="208.70" width="8.36" height="16.00" fill="#000"/>
<rect x="955.68" y="208.70" width="8.36" height="16.00" fill="#d4d4d4"/>
<rect x="963.44" y="208.70" width="8.36" height="16.00" fill="#000"/>
<rect x="971.20" y="208.70" width="16.11" height="16.00" fill="#d4d4d4"/>
<rect x="986.71" y="208.70" width="85.92" height="16.00" fill="#000"/>
<rect x="1072.02" y="208.70" width="23.87" height="16.00" fill="#d4d4d4"/>
<rect x="1095.29" y="208.70" width="194.50" height="16.00" fill="#000"/>
<rect x="1289.19" y="208.70" width="16.11" height="16.00" fill="#d4d4d4"/>
<rect x="1304.70" y="208.70" width="16.11" height="16.00" fill="#000"/>
<rect x="1320.22" y="208.70" width="8.36" height="16.00" fill="#d4d4d4"/>
<rect x="1327.97" y="208.70" width="23.87" height="16.00" fill="#000"/>
<rect x="1351.24" y="208.70" width="8.36" height="16.00" fill="#d4d4d4"/>
<rect x="1359.00" y="208.70" width="147.96" height="16.00" fill="#000"/>
<rect x="1506.36" y="208.70" width="8.36" height="16.00" fill="#d4d4d4"/>
<rect x="1514.12" y="208.70" width="93.67" height="16.00" fill="#000"/>
<rect x="1607.19" y="208.70" width="8.36" height="16.00" fill="#d4d4d4"/>
<rect x="1614.94" y="208.70" width="29.86" height="16.00" fill="#000"/>
</g>
<g>
<rect x="264.50" y="230.60" width="1382.50" height="20.20" fill="#000"/>
<rect x="266.70" y="232.70" width="14.81" height="16.00" fill="#d4d4d4"/>
<rect x="280.91" y="232.70" width="8.36" height="16.00" fill="#f9a21b"/>
<rect x="288.67" y="232.70" width="8.36" height="16.00" fill="#f7e91e"/>
<rect x="296.42" y="232.70" width="16.11" height="16.00" fill="#f9a21b"/>
<rect x="311.94" y="232.70" width="8.36" height="16.00" fill="#d4d4d4"/>
<rect x="319.69" y="232.70" width="8.36" height="16.00" fill="#f9a21b"/>
<rect x="327.45" y="232.70" width="8.36" height="16.00" fill="#f7e91e"/>
<rect x="335.20" y="232.70" width="8.36" height="16.00" fill="#d4d4d4"/>
<rect x="342.96" y="232.70" width="23.87" height="16.00" fill="#f9a21b"/>
<rect x="366.23" y="232.70" width="8.36" height="16.00" fill="#f7e91e"/>
<rect x="373.98" y="232.70" width="16.11" height="16.00" fill="#d4d4d4"/>
<rect x="389.50" y="232.70" width="8.36" height="16.00" fill="#f9a21b"/>
<rect x="397.25" y="232.70" width="8.36" height="16.00" fill="#d4d4d4"/>
<rect x="405.01" y="232.70" width="8.36" height="16.00" fill="#f7e91e"/>
<rect x="412.76" y="232.70" width="8.36" height="16.00" fill="#d4d4d4"/>
<rect x="420.52" y="232.70" width="8.36" height="16.00" fill="#f7e91e"/>
<rect x="428.28" y="232.70" width="16.11" height="16.00" fill="#d4d4d4"/>
<rect x="443.79" y="232.70" width="8.36" height="16.00" fill="#f7e91e"/>
<rect x="451.54" y="232.70" width="8.36" height="16.00" fill="#d4d4d4"/>
<rect x="459.30" y="232.70" width="16.11" height="16.00" fill="#f7e91e"/>
<rect x="474.81" y="232.70" width="8.36" height="16.00" fill="#f9a21b"/>
<rect x="482.57" y="232.70" width="16.11" height="16.00" fill="#f7e91e"/>
<rect x="498.08" y="232.70" width="8.36" height="16.00" fill="#d4d4d4"/>
<rect x="505.84" y="232.70" width="8.36" height="16.00" fill="#f7e91e"/>
<rect x="513.59" y="232.70" width="16.11" height="16.00" fill="#d4d4d4"/>
<rect x="529.10" y="232.70" width="47.14" height="16.00" fill="#f9a21b"/>
<rect x="575.64" y="232.70" width="16.11" height="16.00" fill="#f7e91e"/>
<rect x="591.15" y="232.70" width="8.36" height="16.00" fill="#f9a21b"/>
<rect x="598.91" y="232.70" width="8.36" height="16.00" fill="#f7e91e"/>
<rect x="606.66" y="232.70" width="31.62" height="16.00" fill="#f9a21b"/>
<rect x="637.69" y="232.70" width="8.36" height="16.00" fill="#f7e91e"/>
<rect x="645.44" y="232.70" width="8.36" height="16.00" fill="#f9a21b"/>
<rect x="653.20" y="232.70" width="8.36" height="16.00" fill="#d4d4d4"/>
<rect x="660.96" y="232.70" width="47.14" height="16.00" fill="#f9a21b"/>
<rect x="707.49" y="232.70" width="8.36" height="16.00" fill="#d4d4d4"/>
<rect x="715.25" y="232.70" width="8.36" height="16.00" fill="#f7e91e"/>
<rect x="723.00" y="232.70" width="8.36" height="16.00" fill="#f9a21b"/>
<rect x="730.76" y="232.70" width="8.36" height="16.00" fill="#f7e91e"/>
<rect x="738.52" y="232.70" width="8.36" height="16.00" fill="#f9a21b"/>
<rect x="746.27" y="232.70" width="8.36" height="16.00" fill="#f7e91e"/>
<rect x="754.03" y="232.70" width="8.36" height="16.00" fill="#f9a21b"/>
<rect x="761.78" y="232.70" width="8.36" height="16.00" fill="#f7e91e"/>
<rect x="769.54" y="232.70" width="8.36" height="16.00" fill="#f9a21b"/>
<rect x="777.30" y="232.70" width="8.36" height="16.00" fill="#f7e91e"/>
<rect x="785.05" y="232.70" width="8.36" height="16.00" fill="#f9a21b"/>
<rect x="792.81" y="232.70" width="23.87" height="16.00" fill="#f7e91e"/>
<rect x="816.08" y="232.70" width="16.11" height="16.00" fill="#f9a21b"/>
<rect x="831.59" y="232.70" width="8.36" height="16.00" fill="#f7e91e"/>
<rect x="839.34" y="232.70" width="16.11" height="16.00" fill="#d4d4d4"/>
<rect x="854.86" y="232.70" width="16.11" height="16.00" fill="#f9a21b"/>
<rect x="870.37" y="232.70" width="16.11" height="16.00" fill="#d4d4d4"/>
<rect x="885.88" y="232.70" width="8.36" height="16.00" fill="#f9a21b"/>
<rect x="893.64" y="232.70" width="8.36" height="16.00" fill="#f7e91e"/>
<rect x="901.39" y="232.70" width="31.62" height="16.00" fill="#f9a21b"/>
<rect x="932.42" y="232.70" width="16.11" height="16.00" fill="#f7e91e"/>
<rect x="947.93" y="232.70" width="8.36" height="16.00" fill="#f9a21b"/>
<rect x="955.68" y="232.70" width="16.11" height="16.00" fill="#f7e91e"/>
<rect x="971.20" y="232.70" width="16.11" height="16.00" fill="#f9a21b"/>
<rect x="986.71" y="232.70" width="8.36" height="16.00" fill="#f7e91e"/>
<rect x="994.46" y="232.70" width="8.36" height="16.00" fill="#f9a21b"/>
<rect x="1002.22" y="232.70" width="16.11" height="16.00" fill="#f7e91e"/>
<rect x="1017.73" y="232.70" width="31.62" height="16.00" fill="#f9a21b"/>
<rect x="1048.76" y="232.70" width="8.36" height="16.00" fill="#f7e91e"/>
<rect x="1056.51" y="232.70" width="8.36" height="16.00" fill="#f9a21b"/>
<rect x="1064.27" y="232.70" width="8.36" height="16.00" fill="#f7e91e"/>
<rect x="1072.02" y="232.70" width="8.36" height="16.00" fill="#f9a21b"/>
<rect x="1079.78" y="232.70" width="16.11" height="16.00" fill="#f7e91e"/>
<rect x="1095.29" y="232.70" width="8.36" height="16.00" fill="#f9a21b"/>
<rect x="1103.05" y="232.70" width="8.36" height="16.00" fill="#f7e91e"/>
<rect x="1110.80" y="232.70" width="8.36" height="16.00" fill="#d4d4d4"/>
<rect x="1118.56" y="232.70" width="8.36" height="16.00" fill="#f9a21b"/>
<rect x="1126.32" y="232.70" width="8.36" height="16.00" fill="#d4d4d4"/>
<rect x="1134.07" y="232.70" width="8.36" height="16.00" fill="#f9a21b"/>
<rect x="1141.83" y="232.70" width="16.11" height="16.00" fill="#f7e91e"/>
<rect x="1157.34" y="232.70" width="8.36" height="16.00" fill="#d4d4d4"/>
<rect x="1165.10" y="232.70" width="31.62" height="16.00" fill="#f7e91e"/>
<rect x="1196.12" y="232.70" width="16.11" height="16.00" fill="#f9a21b"/>
<rect x="1211.63" y="232.70" width="8.36" height="16.00" fill="#d4d4d4"/>
<rect x="1219.39" y="232.70" width="16.11" height="16.00" fill="#f9a21b"/>
<rect x="1234.90" y="232.70" width="23.87" height="16.00" fill="#f7e91e"/>
<rect x="1258.17" y="232.70" width="16.11" height="16.00" fill="#d4d4d4"/>
<rect x="1273.68" y="232.70" width="8.36" height="16.00" fill="#f9a21b"/>
<rect x="1281.44" y="232.70" width="8.36" height="16.00" fill="#d4d4d4"/>
<rect x="1289.19" y="232.70" width="8.36" height="16.00" fill="#f9a21b"/>
<rect x="1296.95" y="232.70" width="8.36" height="16.00" fill="#f7e91e"/>
<rect x="1304.70" y="232.70" width="8.36" height="16.00" fill="#d4d4d4"/>
<rect x="1312.46" y="232.70" width="8.36" height="16.00" fill="#f9a21b"/>
<rect x="1320.22" y="232.70" width="8.36" height="16.00" fill="#f7e91e"/>
<rect x="1327.97" y="232.70" width="16.11" height="16.00" fill="#d4d4d4"/>
<rect x="1343.48" y="232.70" width="8.36" height="16.00" fill="#f7e91e"/>
<rect x="1351.24" y="232.70" width="8.36" height="16.00" fill="#d4d4d4"/>
<rect x="1359.00" y="232.70" width="8.36" height="16.00" fill="#f9a21b"/>
<rect x="1366.75" y="232.70" width="31.62" height="16.00" fill="#f7e91e"/>
<rect x="1397.78" y="232.70" width="8.36" height="16.00" fill="#f9a21b"/>
<rect x="1405.53" y="232.70" width="8.36" height="16.00" fill="#f7e91e"/>
<rect x="1413.29" y="232.70" width="8.36" height="16.00" fill="#f9a21b"/>
<rect x="1421.04" y="232.70" width="8.36" height="16.00" fill="#d4d4d4"/>
<rect x="1428.80" y="232.70" width="8.36" height="16.00" fill="#f7e91e"/>
<rect x="1436.56" y="232.70" width="16.11" height="16.00" fill="#f9a21b"/>
<rect x="1452.07" y="232.70" width="16.11" height="16.00" fill="#f7e91e"/>
<rect x="1467.58" y="232.70" width="8.36" height="16.00" fill="#d4d4d4"/>
<rect x="1475.34" y="232.70" width="8.36" height="16.00" fill="#f9a21b"/>
<rect x="1483.09" y="232.70" width="8.36" height="16.00" fill="#f7e91e"/>
<rect x="1490.85" y="232.70" width="8.36" height="16.00" fill="#f9a21b"/>
<rect x="1498.60" y="232.70" width="8.36" height="16.00" fill="#d4d4d4"/>
<rect x="1506.36" y="232.70" width="8.36" height="16.00" fill="#f7e91e"/>
<rect x="1514.12" y="232.70" width="31.62" height="16.00" fill="#d4d4d4"/>
<rect x="1545.14" y="232.70" width="8.36" height="16.00" fill="#f7e91e"/>
<rect x="1552.90" y="232.70" width="8.36" height="16.00" fill="#d4d4d4"/>
<rect x="1560.65" y="232.70" width="31.62" height="16.00" fill="#f7e91e"/>
<rect x="1591.68" y="232.70" width="8.36" height="16.00" fill="#f9a21b"/>
<rect x="1599.43" y="232.70" width="16.11" height="16.00" fill="#f7e91e"/>
<rect x="1614.94" y="232.70" width="16.11" height="16.00" fill="#f9a21b"/>
<rect x="1630.46" y="232.70" width="14.34" height="16.00" fill="#f7e91e"/>
</g>
<g>
<rect x="264.50" y="254.60" width="1382.50" height="20.20" fill="#000"/>
<rect x="266.70" y="256.70" width="14.81" height="16.00" fill="#000"/>
<rect x="280.91" y="256.70" width="101.43" height="16.00" fill="#d4d4d4"/>
<rect x="381.74" y="256.70" width="16.11" height="16.00" fill="#000"/>
<rect x="397.25" y="256.70" width="101.43" height="16.00" fill="#d4d4d4"/>
<rect x="498.08" y="256.70" width="8.36" height="16.00" fill="#000"/>
<rect x="505.84" y="256.70" width="8.36" height="16.00" fill="#d4d4d4"/>
<rect x="513.59" y="256.70" width="8.36" height="16.00" fill="#000"/>
<rect x="521.35" y="256.70" width="132.45" height="16.00" fill="#d4d4d4"/>
<rect x="653.20" y="256.70" width="8.36" height="16.00" fill="#000"/>
<rect x="660.96" y="256.70" width="690.88" height="16.00" fill="#d4d4d4"/>
<rect x="1351.24" y="256.70" width="8.36" height="16.00" fill="#000"/>
<rect x="1359.00" y="256.70" width="285.80" height="16.00" fill="#d4d4d4"/>
</g>
<g>
<rect x="264.50" y="278.50" width="1382.50" height="20.20" fill="#000"/>
<rect x="266.70" y="280.60" width="7.06" height="16.00" fill="#a31d22"/>
<rect x="273.16" y="280.60" width="8.36" height="16.00" fill="#cb2128"/>
<rect x="280.91" y="280.60" width="8.36" height="16.00" fill="#fcbfa8"/>
<rect x="288.67" y="280.60" width="8.36" height="16.00" fill="#f89c80"/>
<rect x="296.42" y="280.60" width="8.36" height="16.00" fill="#f4775c"/>
<rect x="304.18" y="280.60" width="8.36" height="16.00" fill="#ffffff"/>
<rect x="311.94" y="280.60" width="8.36" height="16.00" fill="#ee4034"/>
<rect x="319.69" y="280.60" width="8.36" height="16.00" fill="#f89c80"/>
<rect x="327.45" y="280.60" width="8.36" height="16.00" fill="#fcbfa8"/>
<rect x="335.20" y="280.60" width="8.36" height="16.00" fill="#fee3d8"/>
<rect x="342.96" y="280.60" width="8.36" height="16.00" fill="#f89c80"/>
<rect x="350.72" y="280.60" width="16.11" height="16.00" fill="#fee3d8"/>
<rect x="366.23" y="280.60" width="8.36" height="16.00" fill="#f4775c"/>
<rect x="373.98" y="280.60" width="8.36" height="16.00" fill="#f89c80"/>
<rect x="381.74" y="280.60" width="8.36" height="16.00" fill="#ee4034"/>
<rect x="389.50" y="280.60" width="16.11" height="16.00" fill="#f89c80"/>
<rect x="405.01" y="280.60" width="8.36" height="16.00" fill="#f4775c"/>
<rect x="412.76" y="280.60" width="8.36" height="16.00" fill="#f89c80"/>
<rect x="420.52" y="280.60" width="8.36" height="16.00" fill="#cb2128"/>
<rect x="428.28" y="280.60" width="8.36" height="16.00" fill="#fee3d8"/>
<rect x="436.03" y="280.60" width="8.36" height="16.00" fill="#ee4034"/>
<rect x="443.79" y="280.60" width="8.36" height="16.00" fill="#fcbfa8"/>
<rect x="451.54" y="280.60" width="8.36" height="16.00" fill="#f89c80"/>
<rect x="459.30" y="280.60" width="8.36" height="16.00" fill="#fee3d8"/>
<rect x="467.06" y="280.60" width="16.11" height="16.00" fill="#f4775c"/>
<rect x="482.57" y="280.60" width="8.36" height="16.00" fill="#f89c80"/>
<rect x="490.32" y="280.60" width="8.36" height="16.00" fill="#cb2128"/>
<rect x="498.08" y="280.60" width="8.36" height="16.00" fill="#fcbfa8"/>
<rect x="505.84" y="280.60" width="8.36" height="16.00" fill="#f4775c"/>
<rect x="513.59" y="280.60" width="8.36" height="16.00" fill="#6b1118"/>
<rect x="521.35" y="280.60" width="8.36" height="16.00" fill="#fee3d8"/>
<rect x="529.10" y="280.60" width="8.36" height="16.00" fill="#fcbfa8"/>
<rect x="536.86" y="280.60" width="8.36" height="16.00" fill="#f4775c"/>
<rect x="544.62" y="280.60" width="8.36" height="16.00" fill="#f89c80"/>
<rect x="552.37" y="280.60" width="8.36" height="16.00" fill="#f4775c"/>
<rect x="560.13" y="280.60" width="16.11" height="16.00" fill="#f89c80"/>
<rect x="575.64" y="280.60" width="16.11" height="16.00" fill="#ee4034"/>
<rect x="591.15" y="280.60" width="8.36" height="16.00" fill="#ffffff"/>
<rect x="598.91" y="280.60" width="16.11" height="16.00" fill="#f4775c"/>
<rect x="614.42" y="280.60" width="8.36" height="16.00" fill="#f89c80"/>
<rect x="622.18" y="280.60" width="8.36" height="16.00" fill="#f4775c"/>
<rect x="629.93" y="280.60" width="8.36" height="16.00" fill="#f89c80"/>
<rect x="637.69" y="280.60" width="8.36" height="16.00" fill="#ffffff"/>
<rect x="645.44" y="280.60" width="8.36" height="16.00" fill="#f89c80"/>
<rect x="653.20" y="280.60" width="8.36" height="16.00" fill="#ee4034"/>
<rect x="660.96" y="280.60" width="8.36" height="16.00" fill="#f4775c"/>
<rect x="668.71" y="280.60" width="8.36" height="16.00" fill="#fcbfa8"/>
<rect x="676.47" y="280.60" width="16.11" height="16.00" fill="#cb2128"/>
<rect x="691.98" y="280.60" width="8.36" height="16.00" fill="#f4775c"/>
<rect x="699.74" y="280.60" width="8.36" height="16.00" fill="#fee3d8"/>
<rect x="707.49" y="280.60" width="8.36" height="16.00" fill="#f4775c"/>
<rect x="715.25" y="280.60" width="8.36" height="16.00" fill="#fcbfa8"/>
<rect x="723.00" y="280.60" width="16.11" height="16.00" fill="#ee4034"/>
<rect x="738.52" y="280.60" width="8.36" height="16.00" fill="#fcbfa8"/>
<rect x="746.27" y="280.60" width="8.36" height="16.00" fill="#f89c80"/>
<rect x="754.03" y="280.60" width="16.11" height="16.00" fill="#f4775c"/>
<rect x="769.54" y="280.60" width="8.36" height="16.00" fill="#fee3d8"/>
<rect x="777.30" y="280.60" width="8.36" height="16.00" fill="#ee4034"/>
<rect x="785.05" y="280.60" width="16.11" height="16.00" fill="#f89c80"/>
<rect x="800.56" y="280.60" width="16.11" height="16.00" fill="#f4775c"/>
<rect x="816.08" y="280.60" width="8.36" height="16.00" fill="#f89c80"/>
<rect x="823.83" y="280.60" width="8.36" height="16.00" fill="#cb2128"/>
<rect x="831.59" y="280.60" width="16.11" height="16.00" fill="#f89c80"/>
<rect x="847.10" y="280.60" width="8.36" height="16.00" fill="#ee4034"/>
<rect x="854.86" y="280.60" width="8.36" height="16.00" fill="#f4775c"/>
<rect x="862.61" y="280.60" width="8.36" height="16.00" fill="#ee4034"/>
<rect x="870.37" y="280.60" width="8.36" height="16.00" fill="#fee3d8"/>
<rect x="878.12" y="280.60" width="8.36" height="16.00" fill="#f89c80"/>
<rect x="885.88" y="280.60" width="8.36" height="16.00" fill="#ee4034"/>
<rect x="893.64" y="280.60" width="8.36" height="16.00" fill="#f4775c"/>
<rect x="901.39" y="280.60" width="8.36" height="16.00" fill="#f89c80"/>
<rect x="909.15" y="280.60" width="8.36" height="16.00" fill="#fcbfa8"/>
<rect x="916.90" y="280.60" width="16.11" height="16.00" fill="#f89c80"/>
<rect x="932.42" y="280.60" width="8.36" height="16.00" fill="#fee3d8"/>
<rect x="940.17" y="280.60" width="16.11" height="16.00" fill="#f4775c"/>
<rect x="955.68" y="280.60" width="8.36" height="16.00" fill="#fcbfa8"/>
<rect x="963.44" y="280.60" width="8.36" height="16.00" fill="#f89c80"/>
<rect x="971.20" y="280.60" width="8.36" height="16.00" fill="#ee4034"/>
<rect x="978.95" y="280.60" width="8.36" height="16.00" fill="#f89c80"/>
<rect x="986.71" y="280.60" width="8.36" height="16.00" fill="#f4775c"/>
<rect x="994.46" y="280.60" width="8.36" height="16.00" fill="#a31d22"/>
<rect x="1002.22" y="280.60" width="8.36" height="16.00" fill="#f89c80"/>
<rect x="1009.98" y="280.60" width="8.36" height="16.00" fill="#fcbfa8"/>
<rect x="1017.73" y="280.60" width="8.36" height="16.00" fill="#f4775c"/>
<rect x="1025.49" y="280.60" width="23.87" height="16.00" fill="#ee4034"/>
<rect x="1048.76" y="280.60" width="8.36" height="16.00" fill="#f4775c"/>
<rect x="1056.51" y="280.60" width="16.11" height="16.00" fill="#f89c80"/>
<rect x="1072.02" y="280.60" width="8.36" height="16.00" fill="#ee4034"/>
<rect x="1079.78" y="280.60" width="8.36" height="16.00" fill="#cb2128"/>
<rect x="1087.54" y="280.60" width="8.36" height="16.00" fill="#ee4034"/>
<rect x="1095.29" y="280.60" width="8.36" height="16.00" fill="#f89c80"/>
<rect x="1103.05" y="280.60" width="8.36" height="16.00" fill="#6b1118"/>
<rect x="1110.80" y="280.60" width="8.36" height="16.00" fill="#f4775c"/>
<rect x="1118.56" y="280.60" width="8.36" height="16.00" fill="#f89c80"/>
<rect x="1126.32" y="280.60" width="8.36" height="16.00" fill="#cb2128"/>
<rect x="1134.07" y="280.60" width="8.36" height="16.00" fill="#f89c80"/>
<rect x="1141.83" y="280.60" width="8.36" height="16.00" fill="#fee3d8"/>
<rect x="1149.58" y="280.60" width="8.36" height="16.00" fill="#ee4034"/>
<rect x="1157.34" y="280.60" width="8.36" height="16.00" fill="#fcbfa8"/>
<rect x="1165.10" y="280.60" width="8.36" height="16.00" fill="#f89c80"/>
<rect x="1172.85" y="280.60" width="8.36" height="16.00" fill="#cb2128"/>
<rect x="1180.61" y="280.60" width="8.36" height="16.00" fill="#f4775c"/>
<rect x="1188.36" y="280.60" width="8.36" height="16.00" fill="#a31d22"/>
<rect x="1196.12" y="280.60" width="8.36" height="16.00" fill="#f89c80"/>
<rect x="1203.88" y="280.60" width="8.36" height="16.00" fill="#ee4034"/>
<rect x="1211.63" y="280.60" width="8.36" height="16.00" fill="#f89c80"/>
<rect x="1219.39" y="280.60" width="8.36" height="16.00" fill="#f4775c"/>
<rect x="1227.14" y="280.60" width="8.36" height="16.00" fill="#f89c80"/>
<rect x="1234.90" y="280.60" width="8.36" height="16.00" fill="#fee3d8"/>
<rect x="1242.66" y="280.60" width="8.36" height="16.00" fill="#f89c80"/>
<rect x="1250.41" y="280.60" width="8.36" height="16.00" fill="#f4775c"/>
<rect x="1258.17" y="280.60" width="16.11" height="16.00" fill="#cb2128"/>
<rect x="1273.68" y="280.60" width="8.36" height="16.00" fill="#ee4034"/>
<rect x="1281.44" y="280.60" width="8.36" height="16.00" fill="#f89c80"/>
<rect x="1289.19" y="280.60" width="8.36" height="16.00" fill="#fee3d8"/>
<rect x="1296.95" y="280.60" width="8.36" height="16.00" fill="#f89c80"/>
<rect x="1304.70" y="280.60" width="8.36" height="16.00" fill="#fcbfa8"/>
<rect x="1312.46" y="280.60" width="8.36" height="16.00" fill="#cb2128"/>
<rect x="1320.22" y="280.60" width="8.36" height="16.00" fill="#fee3d8"/>
<rect x="1327.97" y="280.60" width="8.36" height="16.00" fill="#ee4034"/>
<rect x="1335.73" y="280.60" width="16.11" height="16.00" fill="#f89c80"/>
<rect x="1351.24" y="280.60" width="8.36" height="16.00" fill="#cb2128"/>
<rect x="1359.00" y="280.60" width="8.36" height="16.00" fill="#ee4034"/>
<rect x="1366.75" y="280.60" width="8.36" height="16.00" fill="#f89c80"/>
<rect x="1374.51" y="280.60" width="23.87" height="16.00" fill="#f4775c"/>
<rect x="1397.78" y="280.60" width="8.36" height="16.00" fill="#fcbfa8"/>
<rect x="1405.53" y="280.60" width="8.36" height="16.00" fill="#a31d22"/>
<rect x="1413.29" y="280.60" width="8.36" height="16.00" fill="#f4775c"/>
<rect x="1421.04" y="280.60" width="8.36" height="16.00" fill="#ee4034"/>
<rect x="1428.80" y="280.60" width="8.36" height="16.00" fill="#fee3d8"/>
<rect x="1436.56" y="280.60" width="8.36" height="16.00" fill="#f4775c"/>
<rect x="1444.31" y="280.60" width="8.36" height="16.00" fill="#f89c80"/>
<rect x="1452.07" y="280.60" width="8.36" height="16.00" fill="#f4775c"/>
<rect x="1459.82" y="280.60" width="8.36" height="16.00" fill="#cb2128"/>
<rect x="1467.58" y="280.60" width="8.36" height="16.00" fill="#fcbfa8"/>
<rect x="1475.34" y="280.60" width="8.36" height="16.00" fill="#f89c80"/>
<rect x="1483.09" y="280.60" width="16.11" height="16.00" fill="#f4775c"/>
<rect x="1498.60" y="280.60" width="8.36" height="16.00" fill="#cb2128"/>
<rect x="1506.36" y="280.60" width="8.36" height="16.00" fill="#f4775c"/>
<rect x="1514.12" y="280.60" width="8.36" height="16.00" fill="#f89c80"/>
<rect x="1521.87" y="280.60" width="8.36" height="16.00" fill="#fcbfa8"/>
<rect x="1529.63" y="280.60" width="8.36" height="16.00" fill="#f4775c"/>
<rect x="1537.38" y="280.60" width="8.36" height="16.00" fill="#fcbfa8"/>
<rect x="1545.14" y="280.60" width="8.36" height="16.00" fill="#f4775c"/>
<rect x="1552.90" y="280.60" width="8.36" height="16.00" fill="#fcbfa8"/>
<rect x="1560.65" y="280.60" width="8.36" height="16.00" fill="#f4775c"/>
<rect x="1568.41" y="280.60" width="16.11" height="16.00" fill="#a31d22"/>
<rect x="1583.92" y="280.60" width="8.36" height="16.00" fill="#fcbfa8"/>
<rect x="1591.68" y="280.60" width="8.36" height="16.00" fill="#f4775c"/>
<rect x="1599.43" y="280.60" width="8.36" height="16.00" fill="#a31d22"/>
<rect x="1607.19" y="280.60" width="8.36" height="16.00" fill="#fee3d8"/>
<rect x="1614.94" y="280.60" width="16.11" height="16.00" fill="#f89c80"/>
<rect x="1630.46" y="280.60" width="8.36" height="16.00" fill="#f4775c"/>
<rect x="1638.21" y="280.60" width="6.59" height="16.00" fill="#f89c80"/>
</g>
<g>
<rect x="264.50" y="302.40" width="1382.50" height="20.20" fill="#000"/>
<rect x="266.70" y="304.50" width="7.06" height="16.00" fill="#888888"/>
<rect x="273.16" y="304.50" width="16.11" height="16.00" fill="#555555"/>
<rect x="288.67" y="304.50" width="8.36" height="16.00" fill="#666666"/>
<rect x="296.42" y="304.50" width="8.36" height="16.00" fill="#dddddd"/>
<rect x="304.18" y="304.50" width="8.36" height="16.00" fill="#000000"/>
<rect x="311.94" y="304.50" width="8.36" height="16.00" fill="#555555"/>
<rect x="319.69" y="304.50" width="8.36" height="16.00" fill="#dddddd"/>
<rect x="327.45" y="304.50" width="23.87" height="16.00" fill="#555555"/>
<rect x="350.72" y="304.50" width="23.87" height="16.00" fill="#222222"/>
<rect x="373.98" y="304.50" width="8.36" height="16.00" fill="#000000"/>
<rect x="381.74" y="304.50" width="8.36" height="16.00" fill="#777777"/>
<rect x="389.50" y="304.50" width="8.36" height="16.00" fill="#000000"/>
<rect x="397.25" y="304.50" width="8.36" height="16.00" fill="#777777"/>
<rect x="405.01" y="304.50" width="8.36" height="16.00" fill="#dddddd"/>
<rect x="412.76" y="304.50" width="8.36" height="16.00" fill="#222222"/>
<rect x="420.52" y="304.50" width="8.36" height="16.00" fill="#999999"/>
<rect x="428.28" y="304.50" width="16.11" height="16.00" fill="#000000"/>
<rect x="443.79" y="304.50" width="23.87" height="16.00" fill="#555555"/>
<rect x="467.06" y="304.50" width="8.36" height="16.00" fill="#888888"/>
<rect x="474.81" y="304.50" width="8.36" height="16.00" fill="#777777"/>
<rect x="482.57" y="304.50" width="8.36" height="16.00" fill="#999999"/>
<rect x="490.32" y="304.50" width="8.36" height="16.00" fill="#555555"/>
<rect x="498.08" y="304.50" width="8.36" height="16.00" fill="#333333"/>
<rect x="505.84" y="304.50" width="8.36" height="16.00" fill="#555555"/>
<rect x="513.59" y="304.50" width="8.36" height="16.00" fill="#222222"/>
<rect x="521.35" y="304.50" width="8.36" height="16.00" fill="#000000"/>
<rect x="529.10" y="304.50" width="8.36" height="16.00" fill="#666666"/>
<rect x="536.86" y="304.50" width="8.36" height="16.00" fill="#ffffff"/>
<rect x="544.62" y="304.50" width="8.36" height="16.00" fill="#222222"/>
<rect x="552.37" y="304.50" width="8.36" height="16.00" fill="#777777"/>
<rect x="560.13" y="304.50" width="8.36" height="16.00" fill="#555555"/>
<rect x="567.88" y="304.50" width="8.36" height="16.00" fill="#000000"/>
<rect x="575.64" y="304.50" width="8.36" height="16.00" fill="#ffffff"/>
<rect x="583.40" y="304.50" width="8.36" height="16.00" fill="#bbbbbb"/>
<rect x="591.15" y="304.50" width="8.36" height="16.00" fill="#777777"/>
<rect x="598.91" y="304.50" width="16.11" height="16.00" fill="#dddddd"/>
<rect x="614.42" y="304.50" width="8.36" height="16.00" fill="#222222"/>
<rect x="622.18" y="304.50" width="8.36" height="16.00" fill="#555555"/>
<rect x="629.93" y="304.50" width="8.36" height="16.00" fill="#666666"/>
<rect x="637.69" y="304.50" width="8.36" height="16.00" fill="#000000"/>
<rect x="645.44" y="304.50" width="8.36" height="16.00" fill="#666666"/>
<rect x="653.20" y="304.50" width="8.36" height="16.00" fill="#222222"/>
<rect x="660.96" y="304.50" width="8.36" height="16.00" fill="#777777"/>
<rect x="668.71" y="304.50" width="8.36" height="16.00" fill="#333333"/>
<rect x="676.47" y="304.50" width="8.36" height="16.00" fill="#bbbbbb"/>
<rect x="684.22" y="304.50" width="8.36" height="16.00" fill="#777777"/>
<rect x="691.98" y="304.50" width="8.36" height="16.00" fill="#bbbbbb"/>
<rect x="699.74" y="304.50" width="8.36" height="16.00" fill="#666666"/>
<rect x="707.49" y="304.50" width="8.36" height="16.00" fill="#bbbbbb"/>
<rect x="715.25" y="304.50" width="8.36" height="16.00" fill="#555555"/>
<rect x="723.00" y="304.50" width="8.36" height="16.00" fill="#bbbbbb"/>
<rect x="730.76" y="304.50" width="8.36" height="16.00" fill="#999999"/>
<rect x="738.52" y="304.50" width="8.36" height="16.00" fill="#777777"/>
<rect x="746.27" y="304.50" width="8.36" height="16.00" fill="#aaaaaa"/>
<rect x="754.03" y="304.50" width="8.36" height="16.00" fill="#eeeeee"/>
<rect x="761.78" y="304.50" width="8.36" height="16.00" fill="#dddddd"/>
<rect x="769.54" y="304.50" width="16.11" height="16.00" fill="#777777"/>
<rect x="785.05" y="304.50" width="8.36" height="16.00" fill="#333333"/>
<rect x="792.81" y="304.50" width="8.36" height="16.00" fill="#000000"/>
<rect x="800.56" y="304.50" width="8.36" height="16.00" fill="#ffffff"/>
<rect x="808.32" y="304.50" width="16.11" height="16.00" fill="#555555"/>
<rect x="823.83" y="304.50" width="8.36" height="16.00" fill="#888888"/>
<rect x="831.59" y="304.50" width="16.11" height="16.00" fill="#777777"/>
<rect x="847.10" y="304.50" width="8.36" height="16.00" fill="#eeeeee"/>
<rect x="854.86" y="304.50" width="8.36" height="16.00" fill="#dddddd"/>
<rect x="862.61" y="304.50" width="8.36" height="16.00" fill="#bbbbbb"/>
<rect x="870.37" y="304.50" width="8.36" height="16.00" fill="#333333"/>
<rect x="878.12" y="304.50" width="8.36" height="16.00" fill="#555555"/>
<rect x="885.88" y="304.50" width="8.36" height="16.00" fill="#bbbbbb"/>
<rect x="893.64" y="304.50" width="8.36" height="16.00" fill="#777777"/>
<rect x="901.39" y="304.50" width="8.36" height="16.00" fill="#bbbbbb"/>
<rect x="909.15" y="304.50" width="16.11" height="16.00" fill="#555555"/>
<rect x="924.66" y="304.50" width="8.36" height="16.00" fill="#666666"/>
<rect x="932.42" y="304.50" width="8.36" height="16.00" fill="#333333"/>
<rect x="940.17" y="304.50" width="8.36" height="16.00" fill="#aaaaaa"/>
<rect x="947.93" y="304.50" width="8.36" height="16.00" fill="#888888"/>
<rect x="955.68" y="304.50" width="8.36" height="16.00" fill="#aaaaaa"/>
<rect x="963.44" y="304.50" width="8.36" height="16.00" fill="#777777"/>
<rect x="971.20" y="304.50" width="8.36" height="16.00" fill="#eeeeee"/>
<rect x="978.95" y="304.50" width="8.36" height="16.00" fill="#bbbbbb"/>
<rect x="986.71" y="304.50" width="8.36" height="16.00" fill="#000000"/>
<rect x="994.46" y="304.50" width="8.36" height="16.00" fill="#555555"/>
<rect x="1002.22" y="304.50" width="8.36" height="16.00" fill="#888888"/>
<rect x="1009.98" y="304.50" width="8.36" height="16.00" fill="#777777"/>
<rect x="1017.73" y="304.50" width="8.36" height="16.00" fill="#888888"/>
<rect x="1025.49" y="304.50" width="8.36" height="16.00" fill="#666666"/>
<rect x="1033.24" y="304.50" width="8.36" height="16.00" fill="#555555"/>
<rect x="1041.00" y="304.50" width="8.36" height="16.00" fill="#777777"/>
<rect x="1048.76" y="304.50" width="8.36" height="16.00" fill="#333333"/>
<rect x="1056.51" y="304.50" width="8.36" height="16.00" fill="#999999"/>
<rect x="1064.27" y="304.50" width="8.36" height="16.00" fill="#777777"/>
<rect x="1072.02" y="304.50" width="8.36" height="16.00" fill="#bbbbbb"/>
<rect x="1079.78" y="304.50" width="8.36" height="16.00" fill="#666666"/>
<rect x="1087.54" y="304.50" width="8.36" height="16.00" fill="#dddddd"/>
<rect x="1095.29" y="304.50" width="16.11" height="16.00" fill="#ffffff"/>
<rect x="1110.80" y="304.50" width="8.36" height="16.00" fill="#dddddd"/>
<rect x="1118.56" y="304.50" width="8.36" height="16.00" fill="#999999"/>
<rect x="1126.32" y="304.50" width="8.36" height="16.00" fill="#dddddd"/>
<rect x="1134.07" y="304.50" width="8.36" height="16.00" fill="#666666"/>
<rect x="1141.83" y="304.50" width="8.36" height="16.00" fill="#888888"/>
<rect x="1149.58" y="304.50" width="8.36" height="16.00" fill="#999999"/>
<rect x="1157.34" y="304.50" width="8.36" height="16.00" fill="#333333"/>
<rect x="1165.10" y="304.50" width="8.36" height="16.00" fill="#666666"/>
<rect x="1172.85" y="304.50" width="8.36" height="16.00" fill="#bbbbbb"/>
<rect x="1180.61" y="304.50" width="8.36" height="16.00" fill="#cccccc"/>
<rect x="1188.36" y="304.50" width="8.36" height="16.00" fill="#000000"/>
<rect x="1196.12" y="304.50" width="8.36" height="16.00" fill="#dddddd"/>
<rect x="1203.88" y="304.50" width="23.87" height="16.00" fill="#555555"/>
<rect x="1227.14" y="304.50" width="8.36" height="16.00" fill="#dddddd"/>
<rect x="1234.90" y="304.50" width="8.36" height="16.00" fill="#000000"/>
<rect x="1242.66" y="304.50" width="8.36" height="16.00" fill="#666666"/>
<rect x="1250.41" y="304.50" width="8.36" height="16.00" fill="#999999"/>
<rect x="1258.17" y="304.50" width="8.36" height="16.00" fill="#cccccc"/>
<rect x="1265.92" y="304.50" width="8.36" height="16.00" fill="#666666"/>
<rect x="1273.68" y="304.50" width="16.11" height="16.00" fill="#999999"/>
<rect x="1289.19" y="304.50" width="16.11" height="16.00" fill="#777777"/>
<rect x="1304.70" y="304.50" width="8.36" height="16.00" fill="#dddddd"/>
<rect x="1312.46" y="304.50" width="8.36" height="16.00" fill="#ffffff"/>
<rect x="1320.22" y="304.50" width="8.36" height="16.00" fill="#bbbbbb"/>
<rect x="1327.97" y="304.50" width="8.36" height="16.00" fill="#666666"/>
<rect x="1335.73" y="304.50" width="8.36" height="16.00" fill="#333333"/>
<rect x="1343.48" y="304.50" width="16.11" height="16.00" fill="#555555"/>
<rect x="1359.00" y="304.50" width="8.36" height="16.00" fill="#999999"/>
<rect x="1366.75" y="304.50" width="8.36" height="16.00" fill="#666666"/>
<rect x="1374.51" y="304.50" width="8.36" height="16.00" fill="#777777"/>
<rect x="1382.26" y="304.50" width="8.36" height="16.00" fill="#dddddd"/>
<rect x="1390.02" y="304.50" width="8.36" height="16.00" fill="#999999"/>
<rect x="1397.78" y="304.50" width="8.36" height="16.00" fill="#666666"/>
<rect x="1405.53" y="304.50" width="8.36" height="16.00" fill="#dddddd"/>
<rect x="1413.29" y="304.50" width="8.36" height="16.00" fill="#333333"/>
<rect x="1421.04" y="304.50" width="8.36" height="16.00" fill="#bbbbbb"/>
<rect x="1428.80" y="304.50" width="8.36" height="16.00" fill="#333333"/>
<rect x="1436.56" y="304.50" width="8.36" height="16.00" fill="#999999"/>
<rect x="1444.31" y="304.50" width="8.36" height="16.00" fill="#aaaaaa"/>
<rect x="1452.07" y="304.50" width="8.36" height="16.00" fill="#777777"/>
<rect x="1459.82" y="304.50" width="8.36" height="16.00" fill="#ffffff"/>
<rect x="1467.58" y="304.50" width="8.36" height="16.00" fill="#888888"/>
<rect x="1475.34" y="304.50" width="8.36" height="16.00" fill="#bbbbbb"/>
<rect x="1483.09" y="304.50" width="8.36" height="16.00" fill="#666666"/>
<rect x="1490.85" y="304.50" width="8.36" height="16.00" fill="#eeeeee"/>
<rect x="1498.60" y="304.50" width="8.36" height="16.00" fill="#dddddd"/>
<rect x="1506.36" y="304.50" width="8.36" height="16.00" fill="#bbbbbb"/>
<rect x="1514.12" y="304.50" width="8.36" height="16.00" fill="#333333"/>
<rect x="1521.87" y="304.50" width="16.11" height="16.00" fill="#555555"/>
<rect x="1537.38" y="304.50" width="8.36" height="16.00" fill="#000000"/>
<rect x="1545.14" y="304.50" width="8.36" height="16.00" fill="#333333"/>
<rect x="1552.90" y="304.50" width="8.36" height="16.00" fill="#999999"/>
<rect x="1560.65" y="304.50" width="8.36" height="16.00" fill="#ffffff"/>
<rect x="1568.41" y="304.50" width="16.11" height="16.00" fill="#dddddd"/>
<rect x="1583.92" y="304.50" width="8.36" height="16.00" fill="#333333"/>
<rect x="1591.68" y="304.50" width="8.36" height="16.00" fill="#aaaaaa"/>
<rect x="1599.43" y="304.50" width="8.36" height="16.00" fill="#777777"/>
<rect x="1607.19" y="304.50" width="8.36" height="16.00" fill="#333333"/>
<rect x="1614.94" y="304.50" width="16.11" height="16.00" fill="#999999"/>
<rect x="1630.46" y="304.50" width="8.36" height="16.00" fill="#333333"/>
<rect x="1638.21" y="304.50" width="6.59" height="16.00" fill="#777777"/>
</g>
<g>
<rect x="264.50" y="328.40" width="1382.50" height="20.20" fill="#000"/>
<rect x="266.70" y="330.50" width="53.59" height="16.00" fill="#ed2890"/>
<rect x="319.69" y="330.50" width="8.36" height="16.00" fill="#4d4d4d"/>
<rect x="327.45" y="330.50" width="31.62" height="16.00" fill="#ed2890"/>
<rect x="358.47" y="330.50" width="8.36" height="16.00" fill="#4d4d4d"/>
<rect x="366.23" y="330.50" width="155.72" height="16.00" fill="#ed2890"/>
<rect x="521.35" y="330.50" width="8.36" height="16.00" fill="#4d4d4d"/>
<rect x="529.10" y="330.50" width="16.11" height="16.00" fill="#6abd45"/>
<rect x="544.62" y="330.50" width="8.36" height="16.00" fill="#4d4d4d"/>
<rect x="552.37" y="330.50" width="16.11" height="16.00" fill="#6abd45"/>
<rect x="567.88" y="330.50" width="8.36" height="16.00" fill="#ed2890"/>
<rect x="575.64" y="330.50" width="8.36" height="16.00" fill="#4d4d4d"/>
<rect x="583.40" y="330.50" width="31.62" height="16.00" fill="#6abd45"/>
<rect x="614.42" y="330.50" width="8.36" height="16.00" fill="#ed2890"/>
<rect x="622.18" y="330.50" width="16.11" height="16.00" fill="#6abd45"/>
<rect x="637.69" y="330.50" width="8.36" height="16.00" fill="#ed2890"/>
<rect x="645.44" y="330.50" width="8.36" height="16.00" fill="#6abd45"/>
<rect x="653.20" y="330.50" width="8.36" height="16.00" fill="#4d4d4d"/>
<rect x="660.96" y="330.50" width="8.36" height="16.00" fill="#ed2890"/>
<rect x="668.71" y="330.50" width="23.87" height="16.00" fill="#4d4d4d"/>
<rect x="691.98" y="330.50" width="62.65" height="16.00" fill="#6abd45"/>
<rect x="754.03" y="330.50" width="8.36" height="16.00" fill="#ed2890"/>
<rect x="761.78" y="330.50" width="23.87" height="16.00" fill="#6abd45"/>
<rect x="785.05" y="330.50" width="23.87" height="16.00" fill="#4d4d4d"/>
<rect x="808.32" y="330.50" width="8.36" height="16.00" fill="#6abd45"/>
<rect x="816.08" y="330.50" width="23.87" height="16.00" fill="#4d4d4d"/>
<rect x="839.34" y="330.50" width="23.87" height="16.00" fill="#6abd45"/>
<rect x="862.61" y="330.50" width="8.36" height="16.00" fill="#4d4d4d"/>
<rect x="870.37" y="330.50" width="23.87" height="16.00" fill="#6abd45"/>
<rect x="893.64" y="330.50" width="16.11" height="16.00" fill="#4d4d4d"/>
<rect x="909.15" y="330.50" width="16.11" height="16.00" fill="#6abd45"/>
<rect x="924.66" y="330.50" width="8.36" height="16.00" fill="#ed2890"/>
<rect x="932.42" y="330.50" width="39.38" height="16.00" fill="#6abd45"/>
<rect x="971.20" y="330.50" width="8.36" height="16.00" fill="#4d4d4d"/>
<rect x="978.95" y="330.50" width="8.36" height="16.00" fill="#6abd45"/>
<rect x="986.71" y="330.50" width="23.87" height="16.00" fill="#4d4d4d"/>
<rect x="1009.98" y="330.50" width="8.36" height="16.00" fill="#ed2890"/>
<rect x="1017.73" y="330.50" width="39.38" height="16.00" fill="#6abd45"/>
<rect x="1056.51" y="330.50" width="16.11" height="16.00" fill="#4d4d4d"/>
<rect x="1072.02" y="330.50" width="8.36" height="16.00" fill="#6abd45"/>
<rect x="1079.78" y="330.50" width="8.36" height="16.00" fill="#4d4d4d"/>
<rect x="1087.54" y="330.50" width="16.11" height="16.00" fill="#6abd45"/>
<rect x="1103.05" y="330.50" width="8.36" height="16.00" fill="#4d4d4d"/>
<rect x="1110.80" y="330.50" width="8.36" height="16.00" fill="#6abd45"/>
<rect x="1118.56" y="330.50" width="8.36" height="16.00" fill="#4d4d4d"/>
<rect x="1126.32" y="330.50" width="47.14" height="16.00" fill="#6abd45"/>
<rect x="1172.85" y="330.50" width="8.36" height="16.00" fill="#4d4d4d"/>
<rect x="1180.61" y="330.50" width="8.36" height="16.00" fill="#6abd45"/>
<rect x="1188.36" y="330.50" width="8.36" height="16.00" fill="#4d4d4d"/>
<rect x="1196.12" y="330.50" width="8.36" height="16.00" fill="#6abd45"/>
<rect x="1203.88" y="330.50" width="8.36" height="16.00" fill="#4d4d4d"/>
<rect x="1211.63" y="330.50" width="8.36" height="16.00" fill="#6abd45"/>
<rect x="1219.39" y="330.50" width="8.36" height="16.00" fill="#ed2890"/>
<rect x="1227.14" y="330.50" width="16.11" height="16.00" fill="#6abd45"/>
<rect x="1242.66" y="330.50" width="8.36" height="16.00" fill="#4d4d4d"/>
<rect x="1250.41" y="330.50" width="8.36" height="16.00" fill="#6abd45"/>
<rect x="1258.17" y="330.50" width="31.62" height="16.00" fill="#4d4d4d"/>
<rect x="1289.19" y="330.50" width="16.11" height="16.00" fill="#6abd45"/>
<rect x="1304.70" y="330.50" width="8.36" height="16.00" fill="#ed2890"/>
<rect x="1312.46" y="330.50" width="39.38" height="16.00" fill="#6abd45"/>
<rect x="1351.24" y="330.50" width="8.36" height="16.00" fill="#4d4d4d"/>
<rect x="1359.00" y="330.50" width="8.36" height="16.00" fill="#ed2890"/>
<rect x="1366.75" y="330.50" width="8.36" height="16.00" fill="#6abd45"/>
<rect x="1374.51" y="330.50" width="8.36" height="16.00" fill="#4d4d4d"/>
<rect x="1382.26" y="330.50" width="16.11" height="16.00" fill="#6abd45"/>
<rect x="1397.78" y="330.50" width="16.11" height="16.00" fill="#4d4d4d"/>
<rect x="1413.29" y="330.50" width="8.36" height="16.00" fill="#6abd45"/>
<rect x="1421.04" y="330.50" width="8.36" height="16.00" fill="#4d4d4d"/>
<rect x="1428.80" y="330.50" width="16.11" height="16.00" fill="#6abd45"/>
<rect x="1444.31" y="330.50" width="8.36" height="16.00" fill="#4d4d4d"/>
<rect x="1452.07" y="330.50" width="8.36" height="16.00" fill="#ed2890"/>
<rect x="1459.82" y="330.50" width="16.11" height="16.00" fill="#4d4d4d"/>
<rect x="1475.34" y="330.50" width="8.36" height="16.00" fill="#6abd45"/>
<rect x="1483.09" y="330.50" width="8.36" height="16.00" fill="#4d4d4d"/>
<rect x="1490.85" y="330.50" width="16.11" height="16.00" fill="#6abd45"/>
<rect x="1506.36" y="330.50" width="8.36" height="16.00" fill="#4d4d4d"/>
<rect x="1514.12" y="330.50" width="8.36" height="16.00" fill="#6abd45"/>
<rect x="1521.87" y="330.50" width="16.11" height="16.00" fill="#4d4d4d"/>
<rect x="1537.38" y="330.50" width="8.36" height="16.00" fill="#6abd45"/>
<rect x="1545.14" y="330.50" width="8.36" height="16.00" fill="#4d4d4d"/>
<rect x="1552.90" y="330.50" width="23.87" height="16.00" fill="#6abd45"/>
<rect x="1576.16" y="330.50" width="8.36" height="16.00" fill="#4d4d4d"/>
<rect x="1583.92" y="330.50" width="39.38" height="16.00" fill="#6abd45"/>
<rect x="1622.70" y="330.50" width="8.36" height="16.00" fill="#4d4d4d"/>
<rect x="1630.46" y="330.50" width="14.34" height="16.00" fill="#6abd45"/>
</g>
<text transform="translate(151.92,175.60) scale(1.0559,1.0)" font-size="23.4" fill="#000" xml:space="preserve"><tspan>Histology</tspan></text>
<text transform="translate(140.37,200.00) scale(1.0329,1.0)" font-size="23.4" fill="#000" xml:space="preserve"><tspan>HPV clade</tspan></text>
<text transform="translate(83.84,223.70) scale(1.0446,1.0)" font-size="23.4" fill="#000" xml:space="preserve"><tspan>HPV integration</tspan></text>
<text transform="translate(11.60,248.40) scale(1.0260,1.0)" font-size="23.4" fill="#000" xml:space="preserve"><tspan>APOBEC mutagenesis</tspan></text>
<text transform="translate(140.47,272.80) scale(1.0454,1.0)" font-size="23.4" fill="#000" xml:space="preserve"><tspan>UCEC-like</tspan></text>
<text transform="translate(137.86,297.30) scale(1.0358,1.0)" font-size="23.4" fill="#000" xml:space="preserve"><tspan>EMT score</tspan></text>
<text transform="translate(191.14,322.00) scale(1.0446,1.0)" font-size="23.4" fill="#000" xml:space="preserve"><tspan>Purity</tspan></text>
<text transform="translate(171.21,346.70) scale(1.0432,1.0)" font-size="23.4" fill="#000" xml:space="preserve"><tspan>iCluster</tspan></text>
<rect x="1659.65" y="161.05" width="15.10" height="15.10" fill="#4d4d4d" stroke="#000" stroke-width="1.5"/>
<text transform="translate(1683.70,175.90) scale(1.0448,1.0)" font-size="23.4" fill="#000" xml:space="preserve"><tspan>Adeno.</tspan></text>
<rect x="1776.75" y="161.05" width="15.10" height="15.10" fill="#8c8a74" stroke="#000" stroke-width="1.5"/>
<text transform="translate(1802.40,175.90) scale(1.0529,1.0)" font-size="23.4" fill="#000" xml:space="preserve"><tspan>Adenosq.</tspan></text>
<rect x="1923.05" y="161.05" width="15.10" height="15.10" fill="#6bcae1" stroke="#000" stroke-width="1.5"/>
<text transform="translate(1946.90,175.90) scale(1.0484,1.0)" font-size="23.4" fill="#000" xml:space="preserve"><tspan>Squamous</tspan></text>
<rect x="1659.65" y="186.65" width="15.10" height="15.10" fill="#f7e91e" stroke="#000" stroke-width="1.5"/>
<text transform="translate(1683.70,201.50) scale(0.9241,1.0)" font-size="23.4" fill="#000" xml:space="preserve"><tspan>A7</tspan></text>
<rect x="1742.45" y="186.65" width="15.10" height="15.10" fill="#ed2024" stroke="#000" stroke-width="1.5"/>
<text transform="translate(1763.80,201.50) scale(1.0147,1.0)" font-size="23.4" fill="#000" xml:space="preserve"><tspan>A9</tspan></text>
<rect x="1825.15" y="186.65" width="15.10" height="15.10" fill="#d4d4d4" stroke="#000" stroke-width="1.5"/>
<text transform="translate(1850.93,201.50) scale(1.0547,1.0)" font-size="23.4" fill="#000" xml:space="preserve"><tspan>Negative</tspan></text>
<rect x="1969.55" y="186.65" width="15.10" height="15.10" fill="#1b6b38" stroke="#000" stroke-width="1.5"/>
<text transform="translate(1993.49,201.50) scale(1.0505,1.0)" font-size="23.4" fill="#000" xml:space="preserve"><tspan>Other</tspan></text>
<rect x="1659.65" y="210.85" width="15.10" height="15.10" fill="#d4d4d4" stroke="#000" stroke-width="1.5"/>
<text transform="translate(1681.62,225.70) scale(1.1137,1.0)" font-size="23.4" fill="#000" xml:space="preserve"><tspan>No</tspan></text>
<rect x="1742.45" y="210.85" width="15.10" height="15.10" fill="#000" stroke="#000" stroke-width="1.5"/>
<text transform="translate(1763.32,225.70) scale(1.0202,1.0)" font-size="23.4" fill="#000" xml:space="preserve"><tspan>Yes</tspan></text>
<rect x="1659.65" y="258.85" width="15.10" height="15.10" fill="#d4d4d4" stroke="#000" stroke-width="1.5"/>
<text transform="translate(1681.62,273.70) scale(1.1137,1.0)" font-size="23.4" fill="#000" xml:space="preserve"><tspan>No</tspan></text>
<rect x="1742.45" y="258.85" width="15.10" height="15.10" fill="#000" stroke="#000" stroke-width="1.5"/>
<text transform="translate(1763.32,273.70) scale(1.0202,1.0)" font-size="23.4" fill="#000" xml:space="preserve"><tspan>Yes</tspan></text>
<rect x="1659.65" y="234.55" width="15.10" height="15.10" fill="#f9a21b" stroke="#000" stroke-width="1.5"/>
<text transform="translate(1681.65,249.40) scale(1.0935,1.0)" font-size="23.4" fill="#000" xml:space="preserve"><tspan>High</tspan></text>
<rect x="1765.75" y="234.55" width="15.10" height="15.10" fill="#f7e91e" stroke="#000" stroke-width="1.5"/>
<text transform="translate(1788.58,249.40) scale(1.0812,1.0)" font-size="23.4" fill="#000" xml:space="preserve"><tspan>Low</tspan></text>
<rect x="1871.55" y="234.55" width="15.10" height="15.10" fill="#d4d4d4" stroke="#000" stroke-width="1.5"/>
<text transform="translate(1893.72,249.40) scale(1.1137,1.0)" font-size="23.4" fill="#000" xml:space="preserve"><tspan>No</tspan></text>
<rect x="1728.40" y="282.50" width="151.80" height="16.20" fill="#000"/>
<rect x="1730.10" y="284.20" width="16.69" height="12.80" fill="#fff1eb"/>
<rect x="1746.59" y="284.20" width="16.69" height="12.80" fill="#fdd8c9"/>
<rect x="1763.08" y="284.20" width="16.69" height="12.80" fill="#fbb49e"/>
<rect x="1779.57" y="284.20" width="16.69" height="12.80" fill="#f89278"/>
<rect x="1796.06" y="284.20" width="16.69" height="12.80" fill="#f36e55"/>
<rect x="1812.54" y="284.20" width="16.69" height="12.80" fill="#ee4033"/>
<rect x="1829.03" y="284.20" width="16.69" height="12.80" fill="#cd2229"/>
<rect x="1845.52" y="284.20" width="16.69" height="12.80" fill="#a91e24"/>
<rect x="1862.01" y="284.20" width="16.49" height="12.80" fill="#6e1219"/>
<rect x="1728.40" y="306.20" width="151.80" height="16.20" fill="#000"/>
<rect x="1730.10" y="307.90" width="16.69" height="12.80" fill="#ffffff"/>
<rect x="1746.59" y="307.90" width="16.69" height="12.80" fill="#efefef"/>
<rect x="1763.08" y="307.90" width="16.69" height="12.80" fill="#d2d2d2"/>
<rect x="1779.57" y="307.90" width="16.69" height="12.80" fill="#b3b3b3"/>
<rect x="1796.06" y="307.90" width="16.69" height="12.80" fill="#939393"/>
<rect x="1812.54" y="307.90" width="16.69" height="12.80" fill="#737373"/>
<rect x="1829.03" y="307.90" width="16.69" height="12.80" fill="#545454"/>
<rect x="1845.52" y="307.90" width="16.69" height="12.80" fill="#2b2b2b"/>
<rect x="1862.01" y="307.90" width="16.49" height="12.80" fill="#000000"/>
<text transform="translate(1664.60,297.60) scale(1.0319,1.0)" font-size="23.4" fill="#000" xml:space="preserve"><tspan>–3.76</tspan></text>
<text transform="translate(1884.81,297.60) scale(1.0182,1.0)" font-size="23.4" fill="#000" xml:space="preserve"><tspan>1.15</tspan></text>
<text transform="translate(1676.91,321.30) scale(1.0620,1.0)" font-size="23.4" fill="#000" xml:space="preserve"><tspan>0.22</tspan></text>
<text transform="translate(1885.23,321.30) scale(1.0311,1.0)" font-size="23.4" fill="#000" xml:space="preserve"><tspan>0.96</tspan></text>
<rect x="1659.65" y="331.65" width="15.10" height="15.10" fill="#4d4d4d" stroke="#000" stroke-width="1.5"/>
<text transform="translate(1683.41,346.60) scale(1.0621,1.0)" font-size="23.4" fill="#000" xml:space="preserve"><tspan>Keratin-low</tspan></text>
<rect x="1824.75" y="331.65" width="15.10" height="15.10" fill="#6abd45" stroke="#000" stroke-width="1.5"/>
<text transform="translate(1848.01,346.60) scale(1.0631,1.0)" font-size="23.4" fill="#000" xml:space="preserve"><tspan>Keratin-high</tspan></text>
<rect x="1999.65" y="331.65" width="15.10" height="15.10" fill="#ed2890" stroke="#000" stroke-width="1.5"/>
<text transform="translate(2024.60,346.60) scale(1.0406,1.0)" font-size="23.4" fill="#000" xml:space="preserve"><tspan>Adeno.</tspan></text>
<g>
<rect x="264.50" y="359.00" width="1382.50" height="337.00" fill="#000"/>
<rect x="266.60" y="361.00" width="1378.10" height="332.80" fill="#e5e5e5"/>
<rect x="266.60" y="361.00" width="84.12" height="23.00" fill="#3b80bd"/>
<rect x="529.10" y="361.00" width="279.22" height="23.00" fill="#3b80bd"/>
<rect x="350.72" y="384.00" width="15.51" height="24.00" fill="#e31e26"/>
<rect x="529.10" y="384.00" width="23.87" height="24.00" fill="#e31e26"/>
<rect x="552.37" y="384.00" width="31.02" height="24.00" fill="#3b80bd"/>
<rect x="808.32" y="384.00" width="31.62" height="24.00" fill="#e31e26"/>
<rect x="839.34" y="384.00" width="8.36" height="24.00" fill="#984fa0"/>
<rect x="847.10" y="384.00" width="38.78" height="24.00" fill="#3b80bd"/>
<rect x="266.60" y="408.00" width="6.56" height="24.00" fill="#3b80bd"/>
<rect x="350.72" y="408.00" width="7.76" height="24.00" fill="#3b80bd"/>
<rect x="366.23" y="408.00" width="15.51" height="24.00" fill="#3b80bd"/>
<rect x="583.40" y="408.00" width="16.11" height="24.00" fill="#e31e26"/>
<rect x="598.91" y="408.00" width="23.87" height="24.00" fill="#3b80bd"/>
<rect x="622.18" y="408.00" width="7.76" height="24.00" fill="#4eb648"/>
<rect x="808.32" y="408.00" width="7.76" height="24.00" fill="#3b80bd"/>
<rect x="847.10" y="408.00" width="7.76" height="24.00" fill="#e31e26"/>
<rect x="885.88" y="408.00" width="16.11" height="24.00" fill="#e31e26"/>
<rect x="901.39" y="408.00" width="38.78" height="24.00" fill="#3b80bd"/>
<rect x="273.16" y="432.00" width="7.76" height="24.00" fill="#3b80bd"/>
<rect x="381.74" y="432.00" width="7.76" height="24.00" fill="#f58220"/>
<rect x="552.37" y="432.00" width="7.76" height="24.00" fill="#984fa0"/>
<rect x="629.93" y="432.00" width="23.87" height="24.00" fill="#e31e26"/>
<rect x="653.20" y="432.00" width="15.51" height="24.00" fill="#984fa0"/>
<rect x="816.08" y="432.00" width="7.76" height="24.00" fill="#3b80bd"/>
<rect x="839.34" y="432.00" width="7.76" height="24.00" fill="#e31e26"/>
<rect x="940.17" y="432.00" width="16.11" height="24.00" fill="#e31e26"/>
<rect x="955.68" y="432.00" width="8.36" height="24.00" fill="#f58220"/>
<rect x="963.44" y="432.00" width="8.36" height="24.00" fill="#3b80bd"/>
<rect x="971.20" y="432.00" width="7.76" height="24.00" fill="#a85724"/>
<rect x="529.10" y="456.00" width="7.76" height="24.00" fill="#984fa0"/>
<rect x="560.13" y="456.00" width="7.76" height="24.00" fill="#4eb648"/>
<rect x="598.91" y="456.00" width="7.76" height="24.00" fill="#f58220"/>
<rect x="629.93" y="456.00" width="7.76" height="24.00" fill="#e31e26"/>
<rect x="668.71" y="456.00" width="8.36" height="24.00" fill="#e31e26"/>
<rect x="676.47" y="456.00" width="8.36" height="24.00" fill="#984fa0"/>
<rect x="684.22" y="456.00" width="7.76" height="24.00" fill="#3b80bd"/>
<rect x="901.39" y="456.00" width="8.36" height="24.00" fill="#e31e26"/>
<rect x="909.15" y="456.00" width="7.76" height="24.00" fill="#f58220"/>
<rect x="955.68" y="456.00" width="7.76" height="24.00" fill="#3b80bd"/>
<rect x="978.95" y="456.00" width="23.87" height="24.00" fill="#e31e26"/>
<rect x="1002.22" y="456.00" width="7.76" height="24.00" fill="#984fa0"/>
<rect x="266.60" y="480.00" width="14.91" height="24.00" fill="#e31e26"/>
<rect x="280.91" y="480.00" width="7.76" height="24.00" fill="#f58220"/>
<rect x="366.23" y="480.00" width="7.76" height="24.00" fill="#3b80bd"/>
<rect x="389.50" y="480.00" width="7.76" height="24.00" fill="#3b80bd"/>
<rect x="529.10" y="480.00" width="7.76" height="24.00" fill="#3b80bd"/>
<rect x="653.20" y="480.00" width="7.76" height="24.00" fill="#e31e26"/>
<rect x="668.71" y="480.00" width="7.76" height="24.00" fill="#3b80bd"/>
<rect x="691.98" y="480.00" width="8.36" height="24.00" fill="#e31e26"/>
<rect x="699.74" y="480.00" width="7.76" height="24.00" fill="#f6ec2d"/>
<rect x="901.39" y="480.00" width="7.76" height="24.00" fill="#3b80bd"/>
<rect x="1009.98" y="480.00" width="7.76" height="24.00" fill="#e31e26"/>
<rect x="529.10" y="504.00" width="8.36" height="24.00" fill="#3b80bd"/>
<rect x="536.86" y="504.00" width="7.76" height="24.00" fill="#f58220"/>
<rect x="668.71" y="504.00" width="15.51" height="24.00" fill="#3b80bd"/>
<rect x="707.49" y="504.00" width="7.76" height="24.00" fill="#3b80bd"/>
<rect x="978.95" y="504.00" width="7.76" height="24.00" fill="#3b80bd"/>
<rect x="1017.73" y="504.00" width="8.36" height="24.00" fill="#e31e26"/>
<rect x="1025.49" y="504.00" width="31.62" height="24.00" fill="#3b80bd"/>
<rect x="1056.51" y="504.00" width="7.76" height="24.00" fill="#4eb648"/>
<rect x="529.10" y="528.00" width="7.76" height="24.00" fill="#e31e26"/>
<rect x="544.62" y="528.00" width="7.76" height="24.00" fill="#984fa0"/>
<rect x="606.66" y="528.00" width="7.76" height="24.00" fill="#3b80bd"/>
<rect x="622.18" y="528.00" width="7.76" height="24.00" fill="#3b80bd"/>
<rect x="668.71" y="528.00" width="15.51" height="24.00" fill="#e31e26"/>
<rect x="715.25" y="528.00" width="7.76" height="24.00" fill="#3b80bd"/>
<rect x="839.34" y="528.00" width="7.76" height="24.00" fill="#984fa0"/>
<rect x="901.39" y="528.00" width="7.76" height="24.00" fill="#e31e26"/>
<rect x="1064.27" y="528.00" width="8.36" height="24.00" fill="#f58220"/>
<rect x="1072.02" y="528.00" width="7.76" height="24.00" fill="#984fa0"/>
<rect x="266.60" y="552.00" width="14.31" height="24.00" fill="#3b80bd"/>
<rect x="288.67" y="552.00" width="7.76" height="24.00" fill="#3b80bd"/>
<rect x="373.98" y="552.00" width="7.76" height="24.00" fill="#3b80bd"/>
<rect x="397.25" y="552.00" width="23.27" height="24.00" fill="#3b80bd"/>
<rect x="614.42" y="552.00" width="7.76" height="24.00" fill="#3b80bd"/>
<rect x="653.20" y="552.00" width="7.76" height="24.00" fill="#3b80bd"/>
<rect x="823.83" y="552.00" width="7.76" height="24.00" fill="#3b80bd"/>
<rect x="1079.78" y="552.00" width="7.76" height="24.00" fill="#3b80bd"/>
<rect x="280.91" y="576.00" width="7.76" height="24.00" fill="#3b80bd"/>
<rect x="350.72" y="576.00" width="7.76" height="24.00" fill="#3b80bd"/>
<rect x="420.52" y="576.00" width="23.27" height="24.00" fill="#3b80bd"/>
<rect x="637.69" y="576.00" width="7.76" height="24.00" fill="#3b80bd"/>
<rect x="676.47" y="576.00" width="7.76" height="24.00" fill="#3b80bd"/>
<rect x="901.39" y="576.00" width="7.76" height="24.00" fill="#3b80bd"/>
<rect x="1009.98" y="576.00" width="7.76" height="24.00" fill="#3b80bd"/>
<rect x="1087.54" y="576.00" width="7.76" height="24.00" fill="#3b80bd"/>
<rect x="723.00" y="600.00" width="15.51" height="24.00" fill="#3b80bd"/>
<rect x="839.34" y="600.00" width="7.76" height="24.00" fill="#3b80bd"/>
<rect x="885.88" y="600.00" width="7.76" height="24.00" fill="#3b80bd"/>
<rect x="1095.29" y="600.00" width="38.78" height="24.00" fill="#3b80bd"/>
<rect x="529.10" y="624.00" width="7.76" height="24.00" fill="#e31e26"/>
<rect x="567.88" y="624.00" width="7.76" height="24.00" fill="#e31e26"/>
<rect x="629.93" y="624.00" width="7.76" height="24.00" fill="#e31e26"/>
<rect x="986.71" y="624.00" width="7.76" height="24.00" fill="#3b80bd"/>
<rect x="1002.22" y="624.00" width="7.76" height="24.00" fill="#3b80bd"/>
<rect x="1072.02" y="624.00" width="7.76" height="24.00" fill="#e31e26"/>
<rect x="1134.07" y="624.00" width="8.36" height="24.00" fill="#e31e26"/>
<rect x="1141.83" y="624.00" width="7.76" height="24.00" fill="#3b80bd"/>
<rect x="738.52" y="648.00" width="7.76" height="24.00" fill="#3b80bd"/>
<rect x="909.15" y="648.00" width="8.36" height="24.00" fill="#e31e26"/>
<rect x="916.90" y="648.00" width="7.76" height="24.00" fill="#f58220"/>
<rect x="1149.58" y="648.00" width="8.36" height="24.00" fill="#e31e26"/>
<rect x="1157.34" y="648.00" width="8.36" height="24.00" fill="#3b80bd"/>
<rect x="1165.10" y="648.00" width="7.76" height="24.00" fill="#4eb648"/>
<rect x="854.86" y="672.00" width="7.76" height="21.80" fill="#3b80bd"/>
<rect x="916.90" y="672.00" width="7.76" height="21.80" fill="#3b80bd"/>
<rect x="1025.49" y="672.00" width="7.76" height="21.80" fill="#3b80bd"/>
<rect x="1149.58" y="672.00" width="7.76" height="21.80" fill="#3b80bd"/>
</g>
<text transform="translate(97.98,378.40) scale(1.0311,1.0)" font-size="23.4" fill="#000" xml:space="preserve"><tspan font-style="italic">PIK3CA</tspan><tspan> (26%)</tspan></text>
<text transform="translate(112.27,402.33) scale(1.0369,1.0)" font-size="23.4" fill="#000" xml:space="preserve"><tspan font-style="italic">EP300</tspan><tspan> (11%)</tspan></text>
<text transform="translate(101.77,426.26) scale(1.0353,1.0)" font-size="23.4" fill="#000" xml:space="preserve"><tspan font-style="italic">FBXW7</tspan><tspan> (11%)</tspan></text>
<text transform="translate(135.09,450.19) scale(1.0119,1.0)" font-size="23.4" fill="#000" xml:space="preserve"><tspan font-style="italic">PTEN</tspan><tspan> (8%)</tspan></text>
<text transform="translate(124.57,474.12) scale(1.0438,1.0)" font-size="23.4" fill="#000" xml:space="preserve"><tspan font-style="italic">HLA-A</tspan><tspan> (8%)</tspan></text>
<text transform="translate(112.49,498.05) scale(1.0135,1.0)" font-size="23.4" fill="#000" xml:space="preserve"><tspan font-style="italic">ARID1A</tspan><tspan> (7%)</tspan></text>
<text transform="translate(110.59,521.98) scale(1.0176,1.0)" font-size="23.4" fill="#000" xml:space="preserve"><tspan font-style="italic">NFE2L2</tspan><tspan> (7%)</tspan></text>
<text transform="translate(123.96,545.91) scale(1.0487,1.0)" font-size="23.4" fill="#000" xml:space="preserve"><tspan font-style="italic">HLA-B</tspan><tspan> (6%)</tspan></text>
<text transform="translate(132.58,569.84) scale(1.0219,1.0)" font-size="23.4" fill="#000" xml:space="preserve"><tspan font-style="italic">KRAS</tspan><tspan> (6%)</tspan></text>
<text transform="translate(118.98,593.77) scale(1.0242,1.0)" font-size="23.4" fill="#000" xml:space="preserve"><tspan font-style="italic">ERBB3</tspan><tspan> (6%)</tspan></text>
<text transform="translate(114.27,617.70) scale(1.0396,1.0)" font-size="23.4" fill="#000" xml:space="preserve"><tspan font-style="italic">MAPK1</tspan><tspan> (5%)</tspan></text>
<text transform="translate(117.87,641.63) scale(1.0327,1.0)" font-size="23.4" fill="#14858a" xml:space="preserve"><tspan font-style="italic">CASP8</tspan><tspan> (4%)</tspan></text>
<text transform="translate(103.14,665.56) scale(1.0234,1.0)" font-size="23.4" fill="#14858a" xml:space="preserve"><tspan font-style="italic">TGFBR2</tspan><tspan> (3%)</tspan></text>
<text transform="translate(101.78,689.49) scale(1.0325,1.0)" font-size="23.4" fill="#14858a" xml:space="preserve"><tspan font-style="italic">SHKBP1</tspan><tspan> (2%)</tspan></text>
<rect x="1661.00" y="360.50" width="84.40" height="23.00" fill="#ed2024"/>
<rect x="1746.30" y="360.50" width="19.30" height="23.00" fill="#3e55a5"/>
<rect x="1661.00" y="384.50" width="19.00" height="23.00" fill="#ed2024"/>
<rect x="1680.90" y="384.50" width="21.70" height="23.00" fill="#3e55a5"/>
<rect x="1661.00" y="408.50" width="9.60" height="23.00" fill="#ed2024"/>
<rect x="1671.50" y="408.50" width="31.10" height="23.00" fill="#3e55a5"/>
<rect x="1661.00" y="432.50" width="14.60" height="23.00" fill="#ed2024"/>
<rect x="1676.50" y="432.50" width="17.10" height="23.00" fill="#3e55a5"/>
<rect x="1661.00" y="456.50" width="12.00" height="23.00" fill="#ed2024"/>
<rect x="1673.90" y="456.50" width="17.30" height="23.00" fill="#3e55a5"/>
<rect x="1661.00" y="480.50" width="16.60" height="23.00" fill="#ed2024"/>
<rect x="1678.50" y="480.50" width="8.50" height="23.00" fill="#3e55a5"/>
<rect x="1661.00" y="504.50" width="23.00" height="23.00" fill="#ed2024"/>
<rect x="1684.90" y="504.50" width="1.50" height="23.00" fill="#3e55a5"/>
<rect x="1661.00" y="528.50" width="8.00" height="23.00" fill="#ed2024"/>
<rect x="1669.90" y="528.50" width="14.50" height="23.00" fill="#3e55a5"/>
<rect x="1661.00" y="552.50" width="23.40" height="23.00" fill="#3e55a5"/>
<rect x="1661.00" y="576.50" width="3.40" height="23.00" fill="#ed2024"/>
<rect x="1665.30" y="576.50" width="17.10" height="23.00" fill="#3e55a5"/>
<rect x="1661.00" y="600.50" width="3.40" height="23.00" fill="#ed2024"/>
<rect x="1665.30" y="600.50" width="14.70" height="23.00" fill="#3e55a5"/>
<rect x="1661.00" y="624.50" width="9.60" height="23.00" fill="#ed2024"/>
<rect x="1671.50" y="624.50" width="6.50" height="23.00" fill="#3e55a5"/>
<rect x="1661.00" y="648.50" width="12.40" height="23.00" fill="#3e55a5"/>
<rect x="1661.00" y="672.50" width="6.00" height="23.00" fill="#ed2024"/>
<rect x="1667.90" y="672.50" width="1.10" height="23.00" fill="#3e55a5"/>
<path d="M1659.3,695.4H1841.4" stroke="#000" stroke-width="2" fill="none"/>
<path d="M1660.20,695.4V701.2" stroke="#000" stroke-width="1.9" fill="none"/>
<text transform="translate(1653.47,725.30) scale(1.0300,1.0)" font-size="22.3" fill="#000" xml:space="preserve"><tspan>0</tspan></text>
<path d="M1705.25,695.4V701.2" stroke="#000" stroke-width="1.9" fill="none"/>
<text transform="translate(1692.03,725.30) scale(1.0300,1.0)" font-size="22.3" fill="#000" xml:space="preserve"><tspan>20</tspan></text>
<path d="M1750.30,695.4V701.2" stroke="#000" stroke-width="1.9" fill="none"/>
<text transform="translate(1737.42,725.30) scale(1.0300,1.0)" font-size="22.3" fill="#000" xml:space="preserve"><tspan>40</tspan></text>
<path d="M1795.35,695.4V701.2" stroke="#000" stroke-width="1.9" fill="none"/>
<text transform="translate(1782.13,725.30) scale(1.0300,1.0)" font-size="22.3" fill="#000" xml:space="preserve"><tspan>60</tspan></text>
<path d="M1840.40,695.4V701.2" stroke="#000" stroke-width="1.9" fill="none"/>
<text transform="translate(1827.29,725.30) scale(1.0300,1.0)" font-size="22.3" fill="#000" xml:space="preserve"><tspan>80</tspan></text>
<text transform="translate(1701.79,750.10) scale(1.0755,1.0)" font-size="23.4" fill="#000" xml:space="preserve"><tspan>Mutations</tspan></text>
<rect x="1762.40" y="496.00" width="16.20" height="14.20" fill="#ed2024"/>
<rect x="1762.40" y="520.00" width="16.20" height="14.00" fill="#3e55a5"/>
<text transform="translate(1788.00,510.60) scale(1.0037,1.0)" font-size="23.4" fill="#000" xml:space="preserve"><tspan>APOBEC</tspan></text>
<text transform="translate(1787.07,533.80) scale(1.0333,1.0)" font-size="23.4" fill="#000" xml:space="preserve"><tspan>Non-APOBEC</tspan></text>
<rect x="262.90" y="705.70" width="20.20" height="18.00" fill="#4eb648" stroke="#000" stroke-width="1.8"/>
<text transform="translate(291.69,723.60) scale(1.0511,1.0)" font-size="23.4" fill="#000" xml:space="preserve"><tspan>Synonymous</tspan></text>
<rect x="472.40" y="705.70" width="20.20" height="18.00" fill="#f6ec2d" stroke="#000" stroke-width="1.8"/>
<text transform="translate(500.84,723.60) scale(1.0262,1.0)" font-size="23.4" fill="#000" xml:space="preserve"><tspan>In-frame indel</tspan></text>
<rect x="671.30" y="705.70" width="20.20" height="18.00" fill="#a85724" stroke="#000" stroke-width="1.8"/>
<text transform="translate(701.19,723.60) scale(1.0511,1.0)" font-size="23.4" fill="#000" xml:space="preserve"><tspan>Other non-synonymous</tspan></text>
<rect x="982.90" y="705.70" width="20.20" height="18.00" fill="#3b80bd" stroke="#000" stroke-width="1.8"/>
<text transform="translate(1014.63,723.60) scale(1.0504,1.0)" font-size="23.4" fill="#000" xml:space="preserve"><tspan>Missense</tspan></text>
<rect x="1139.40" y="705.70" width="20.20" height="18.00" fill="#984fa0" stroke="#000" stroke-width="1.8"/>
<text transform="translate(1171.38,723.60) scale(1.0622,1.0)" font-size="23.4" fill="#000" xml:space="preserve"><tspan>Splice site</tspan></text>
<rect x="1302.90" y="705.70" width="20.20" height="18.00" fill="#f58220" stroke="#000" stroke-width="1.8"/>
<text transform="translate(1333.05,723.60) scale(1.0419,1.0)" font-size="23.4" fill="#000" xml:space="preserve"><tspan>Frameshift</tspan></text>
<rect x="1471.70" y="705.70" width="20.20" height="18.00" fill="#e31e26" stroke="#000" stroke-width="1.8"/>
<text transform="translate(1502.45,723.60) scale(1.0401,1.0)" font-size="23.4" fill="#000" xml:space="preserve"><tspan>Nonsense</tspan></text>
<g>
<rect x="264.50" y="765.00" width="1382.50" height="121.90" fill="#000"/>
<rect x="266.60" y="767.00" width="1378.10" height="117.70" fill="#e5e5e5"/>
<rect x="280.91" y="767.00" width="7.76" height="23.00" fill="#ed2024"/>
<rect x="304.18" y="767.00" width="7.76" height="23.00" fill="#ed2024"/>
<rect x="319.69" y="767.00" width="7.76" height="23.00" fill="#f9a21b"/>
<rect x="358.47" y="767.00" width="16.11" height="23.00" fill="#f9a21b"/>
<rect x="373.98" y="767.00" width="7.76" height="23.00" fill="#ed2024"/>
<rect x="389.50" y="767.00" width="8.36" height="23.00" fill="#ed2024"/>
<rect x="397.25" y="767.00" width="15.51" height="23.00" fill="#f9a21b"/>
<rect x="420.52" y="767.00" width="7.76" height="23.00" fill="#f9a21b"/>
<rect x="443.79" y="767.00" width="7.76" height="23.00" fill="#ed2024"/>
<rect x="459.30" y="767.00" width="7.76" height="23.00" fill="#f9a21b"/>
<rect x="474.81" y="767.00" width="7.76" height="23.00" fill="#ed2024"/>
<rect x="498.08" y="767.00" width="8.36" height="23.00" fill="#f9a21b"/>
<rect x="505.84" y="767.00" width="7.76" height="23.00" fill="#ed2024"/>
<rect x="521.35" y="767.00" width="8.36" height="23.00" fill="#3e55a5"/>
<rect x="529.10" y="767.00" width="8.36" height="23.00" fill="#ed2024"/>
<rect x="536.86" y="767.00" width="7.76" height="23.00" fill="#f9a21b"/>
<rect x="552.37" y="767.00" width="7.76" height="23.00" fill="#f9a21b"/>
<rect x="575.64" y="767.00" width="15.51" height="23.00" fill="#f9a21b"/>
<rect x="606.66" y="767.00" width="8.36" height="23.00" fill="#f9a21b"/>
<rect x="614.42" y="767.00" width="15.51" height="23.00" fill="#ed2024"/>
<rect x="637.69" y="767.00" width="7.76" height="23.00" fill="#ed2024"/>
<rect x="668.71" y="767.00" width="23.87" height="23.00" fill="#ed2024"/>
<rect x="691.98" y="767.00" width="23.87" height="23.00" fill="#f9a21b"/>
<rect x="715.25" y="767.00" width="31.02" height="23.00" fill="#ed2024"/>
<rect x="754.03" y="767.00" width="23.87" height="23.00" fill="#f9a21b"/>
<rect x="777.30" y="767.00" width="7.76" height="23.00" fill="#ed2024"/>
<rect x="792.81" y="767.00" width="7.76" height="23.00" fill="#ed2024"/>
<rect x="808.32" y="767.00" width="7.76" height="23.00" fill="#ed2024"/>
<rect x="831.59" y="767.00" width="7.76" height="23.00" fill="#ed2024"/>
<rect x="862.61" y="767.00" width="8.36" height="23.00" fill="#f9a21b"/>
<rect x="870.37" y="767.00" width="16.11" height="23.00" fill="#ed2024"/>
<rect x="885.88" y="767.00" width="7.76" height="23.00" fill="#f9a21b"/>
<rect x="901.39" y="767.00" width="8.36" height="23.00" fill="#ed2024"/>
<rect x="909.15" y="767.00" width="8.36" height="23.00" fill="#3e55a5"/>
<rect x="916.90" y="767.00" width="7.76" height="23.00" fill="#f9a21b"/>
<rect x="940.17" y="767.00" width="7.76" height="23.00" fill="#ed2024"/>
<rect x="955.68" y="767.00" width="15.51" height="23.00" fill="#ed2024"/>
<rect x="1002.22" y="767.00" width="8.36" height="23.00" fill="#ed2024"/>
<rect x="1009.98" y="767.00" width="7.76" height="23.00" fill="#f9a21b"/>
<rect x="1025.49" y="767.00" width="7.76" height="23.00" fill="#ed2024"/>
<rect x="1041.00" y="767.00" width="15.51" height="23.00" fill="#ed2024"/>
<rect x="1072.02" y="767.00" width="16.11" height="23.00" fill="#ed2024"/>
<rect x="1087.54" y="767.00" width="8.36" height="23.00" fill="#abd9e9"/>
<rect x="1095.29" y="767.00" width="8.36" height="23.00" fill="#f9a21b"/>
<rect x="1103.05" y="767.00" width="54.29" height="23.00" fill="#ed2024"/>
<rect x="1172.85" y="767.00" width="16.11" height="23.00" fill="#ed2024"/>
<rect x="1188.36" y="767.00" width="15.51" height="23.00" fill="#f9a21b"/>
<rect x="1211.63" y="767.00" width="16.11" height="23.00" fill="#ed2024"/>
<rect x="1227.14" y="767.00" width="8.36" height="23.00" fill="#f9a21b"/>
<rect x="1234.90" y="767.00" width="31.62" height="23.00" fill="#ed2024"/>
<rect x="1265.92" y="767.00" width="8.36" height="23.00" fill="#f9a21b"/>
<rect x="1273.68" y="767.00" width="23.87" height="23.00" fill="#ed2024"/>
<rect x="1296.95" y="767.00" width="8.36" height="23.00" fill="#abd9e9"/>
<rect x="1304.70" y="767.00" width="8.36" height="23.00" fill="#ed2024"/>
<rect x="1312.46" y="767.00" width="16.11" height="23.00" fill="#f9a21b"/>
<rect x="1327.97" y="767.00" width="8.36" height="23.00" fill="#ed2024"/>
<rect x="1335.73" y="767.00" width="8.36" height="23.00" fill="#f9a21b"/>
<rect x="1343.48" y="767.00" width="7.76" height="23.00" fill="#ed2024"/>
<rect x="1359.00" y="767.00" width="7.76" height="23.00" fill="#ed2024"/>
<rect x="1374.51" y="767.00" width="23.27" height="23.00" fill="#ed2024"/>
<rect x="1405.53" y="767.00" width="7.76" height="23.00" fill="#ed2024"/>
<rect x="1428.80" y="767.00" width="8.36" height="23.00" fill="#ed2024"/>
<rect x="1436.56" y="767.00" width="8.36" height="23.00" fill="#f9a21b"/>
<rect x="1444.31" y="767.00" width="8.36" height="23.00" fill="#abd9e9"/>
<rect x="1452.07" y="767.00" width="8.36" height="23.00" fill="#ed2024"/>
<rect x="1459.82" y="767.00" width="16.11" height="23.00" fill="#f9a21b"/>
<rect x="1475.34" y="767.00" width="8.36" height="23.00" fill="#ed2024"/>
<rect x="1483.09" y="767.00" width="7.76" height="23.00" fill="#f9a21b"/>
<rect x="1498.60" y="767.00" width="15.51" height="23.00" fill="#ed2024"/>
<rect x="1521.87" y="767.00" width="7.76" height="23.00" fill="#ed2024"/>
<rect x="1537.38" y="767.00" width="8.36" height="23.00" fill="#ed2024"/>
<rect x="1545.14" y="767.00" width="8.36" height="23.00" fill="#abd9e9"/>
<rect x="1552.90" y="767.00" width="8.36" height="23.00" fill="#ed2024"/>
<rect x="1560.65" y="767.00" width="15.51" height="23.00" fill="#f9a21b"/>
<rect x="1583.92" y="767.00" width="8.36" height="23.00" fill="#ed2024"/>
<rect x="1591.68" y="767.00" width="7.76" height="23.00" fill="#f9a21b"/>
<rect x="1607.19" y="767.00" width="23.87" height="23.00" fill="#ed2024"/>
<rect x="1630.46" y="767.00" width="14.24" height="23.00" fill="#f9a21b"/>
<rect x="358.47" y="790.00" width="7.76" height="24.00" fill="#ed2024"/>
<rect x="560.13" y="790.00" width="7.76" height="24.00" fill="#3e55a5"/>
<rect x="668.71" y="790.00" width="8.36" height="24.00" fill="#ed2024"/>
<rect x="676.47" y="790.00" width="7.76" height="24.00" fill="#f9a21b"/>
<rect x="699.74" y="790.00" width="7.76" height="24.00" fill="#ed2024"/>
<rect x="870.37" y="790.00" width="7.76" height="24.00" fill="#ed2024"/>
<rect x="986.71" y="790.00" width="7.76" height="24.00" fill="#ed2024"/>
<rect x="1025.49" y="790.00" width="7.76" height="24.00" fill="#ed2024"/>
<rect x="1149.58" y="790.00" width="7.76" height="24.00" fill="#abd9e9"/>
<rect x="1196.12" y="790.00" width="7.76" height="24.00" fill="#f9a21b"/>
<rect x="1273.68" y="790.00" width="7.76" height="24.00" fill="#ed2024"/>
<rect x="1335.73" y="790.00" width="7.76" height="24.00" fill="#3e55a5"/>
<rect x="1483.09" y="790.00" width="7.76" height="24.00" fill="#abd9e9"/>
<rect x="1614.94" y="790.00" width="7.76" height="24.00" fill="#ed2024"/>
<rect x="311.94" y="814.00" width="7.76" height="24.00" fill="#abd9e9"/>
<rect x="373.98" y="814.00" width="7.76" height="24.00" fill="#3e55a5"/>
<rect x="490.32" y="814.00" width="7.76" height="24.00" fill="#f9a21b"/>
<rect x="513.59" y="814.00" width="7.76" height="24.00" fill="#3e55a5"/>
<rect x="660.96" y="814.00" width="7.76" height="24.00" fill="#ed2024"/>
<rect x="878.12" y="814.00" width="7.76" height="24.00" fill="#3e55a5"/>
<rect x="947.93" y="814.00" width="15.51" height="24.00" fill="#3e55a5"/>
<rect x="986.71" y="814.00" width="7.76" height="24.00" fill="#ed2024"/>
<rect x="1017.73" y="814.00" width="7.76" height="24.00" fill="#3e55a5"/>
<rect x="1072.02" y="814.00" width="7.76" height="24.00" fill="#3e55a5"/>
<rect x="1149.58" y="814.00" width="7.76" height="24.00" fill="#3e55a5"/>
<rect x="1304.70" y="814.00" width="7.76" height="24.00" fill="#abd9e9"/>
<rect x="1537.38" y="814.00" width="7.76" height="24.00" fill="#abd9e9"/>
<rect x="505.84" y="838.00" width="7.76" height="24.00" fill="#3e55a5"/>
<rect x="598.91" y="838.00" width="8.36" height="24.00" fill="#f9a21b"/>
<rect x="606.66" y="838.00" width="7.76" height="24.00" fill="#ed2024"/>
<rect x="676.47" y="838.00" width="7.76" height="24.00" fill="#ed2024"/>
<rect x="777.30" y="838.00" width="8.36" height="24.00" fill="#f9a21b"/>
<rect x="785.05" y="838.00" width="7.76" height="24.00" fill="#ed2024"/>
<rect x="862.61" y="838.00" width="15.51" height="24.00" fill="#ed2024"/>
<rect x="971.20" y="838.00" width="7.76" height="24.00" fill="#ed2024"/>
<rect x="1041.00" y="838.00" width="7.76" height="24.00" fill="#ed2024"/>
<rect x="1134.07" y="838.00" width="7.76" height="24.00" fill="#ed2024"/>
<rect x="1180.61" y="838.00" width="8.36" height="24.00" fill="#f9a21b"/>
<rect x="1188.36" y="838.00" width="23.27" height="24.00" fill="#ed2024"/>
<rect x="1265.92" y="838.00" width="7.76" height="24.00" fill="#ed2024"/>
<rect x="1281.44" y="838.00" width="7.76" height="24.00" fill="#ed2024"/>
<rect x="1296.95" y="838.00" width="7.76" height="24.00" fill="#ed2024"/>
<rect x="1320.22" y="838.00" width="7.76" height="24.00" fill="#ed2024"/>
<rect x="1413.29" y="838.00" width="7.76" height="24.00" fill="#ed2024"/>
<rect x="1444.31" y="838.00" width="7.76" height="24.00" fill="#f9a21b"/>
<rect x="1459.82" y="838.00" width="7.76" height="24.00" fill="#ed2024"/>
<rect x="1498.60" y="838.00" width="7.76" height="24.00" fill="#ed2024"/>
<rect x="1545.14" y="838.00" width="7.76" height="24.00" fill="#ed2024"/>
<rect x="1576.16" y="838.00" width="7.76" height="24.00" fill="#ed2024"/>
<rect x="1614.94" y="838.00" width="15.51" height="24.00" fill="#f9a21b"/>
<rect x="1638.21" y="838.00" width="6.49" height="24.00" fill="#ed2024"/>
<rect x="304.18" y="862.00" width="7.76" height="22.70" fill="#ed2024"/>
<rect x="405.01" y="862.00" width="23.27" height="22.70" fill="#ed2024"/>
<rect x="459.30" y="862.00" width="7.76" height="22.70" fill="#3e55a5"/>
<rect x="505.84" y="862.00" width="7.76" height="22.70" fill="#ed2024"/>
<rect x="839.34" y="862.00" width="7.76" height="22.70" fill="#f9a21b"/>
<rect x="870.37" y="862.00" width="7.76" height="22.70" fill="#ed2024"/>
<rect x="1048.76" y="862.00" width="7.76" height="22.70" fill="#ed2024"/>
<rect x="1219.39" y="862.00" width="7.76" height="22.70" fill="#ed2024"/>
<rect x="1304.70" y="862.00" width="7.76" height="22.70" fill="#ed2024"/>
<rect x="1436.56" y="862.00" width="7.76" height="22.70" fill="#f9a21b"/>
</g>
<text transform="translate(154.14,784.30) scale(1.0443,1.0)" font-size="23.4" fill="#000" xml:space="preserve"><tspan>3q</tspan><tspan> (66%)</tspan></text>
<text transform="translate(119.97,808.18) scale(1.0353,1.0)" font-size="23.4" fill="#000" xml:space="preserve"><tspan font-style="italic">CD274</tspan><tspan> (8%)</tspan></text>
<text transform="translate(133.49,832.06) scale(1.0119,1.0)" font-size="23.4" fill="#000" xml:space="preserve"><tspan font-style="italic">PTEN</tspan><tspan> (8%)</tspan></text>
<text transform="translate(122.78,855.94) scale(1.0236,1.0)" font-size="23.4" fill="#000" xml:space="preserve"><tspan font-style="italic">YAP1</tspan><tspan> (16%)</tspan></text>
<text transform="translate(115.48,879.82) scale(1.0286,1.0)" font-size="23.4" fill="#000" xml:space="preserve"><tspan font-style="italic">BCAR4</tspan><tspan> (7%)</tspan></text>
<rect x="1660.50" y="766.60" width="193.00" height="23.00" fill="#ed2024"/>
<rect x="1854.40" y="766.60" width="9.50" height="23.00" fill="#3e55a5"/>
<rect x="1660.50" y="790.60" width="16.10" height="23.00" fill="#ed2024"/>
<rect x="1677.50" y="790.60" width="6.10" height="23.00" fill="#3e55a5"/>
<rect x="1660.50" y="814.60" width="3.90" height="23.00" fill="#ed2024"/>
<rect x="1665.30" y="814.60" width="18.30" height="23.00" fill="#3e55a5"/>
<rect x="1660.50" y="838.60" width="46.10" height="23.00" fill="#ed2024"/>
<rect x="1706.60" y="838.60" width="1.40" height="23.00" fill="#9a8fc4"/>
<rect x="1660.50" y="862.60" width="18.10" height="22.00" fill="#ed2024"/>
<rect x="1678.60" y="862.60" width="1.40" height="22.00" fill="#9a8fc4"/>
<path d="M1659.3,885.4H1850.4" stroke="#000" stroke-width="2" fill="none"/>
<path d="M1660.20,885.4V892.6" stroke="#000" stroke-width="1.9" fill="none"/>
<text transform="translate(1653.47,917.30) scale(1.0300,1.0)" font-size="22.3" fill="#000" xml:space="preserve"><tspan>0</tspan></text>
<path d="M1691.73,885.4V892.6" stroke="#000" stroke-width="1.9" fill="none"/>
<path d="M1723.26,885.4V892.6" stroke="#000" stroke-width="1.9" fill="none"/>
<text transform="translate(1710.38,917.30) scale(1.0300,1.0)" font-size="22.3" fill="#000" xml:space="preserve"><tspan>40</tspan></text>
<path d="M1754.79,885.4V892.6" stroke="#000" stroke-width="1.9" fill="none"/>
<path d="M1786.32,885.4V892.6" stroke="#000" stroke-width="1.9" fill="none"/>
<text transform="translate(1773.21,917.30) scale(1.0300,1.0)" font-size="22.3" fill="#000" xml:space="preserve"><tspan>80</tspan></text>
<path d="M1817.85,885.4V892.6" stroke="#000" stroke-width="1.9" fill="none"/>
<path d="M1849.38,885.4V892.6" stroke="#000" stroke-width="1.9" fill="none"/>
<text transform="translate(1829.50,917.30) scale(1.0300,1.0)" font-size="22.3" fill="#000" xml:space="preserve"><tspan>120</tspan></text>
<text transform="translate(1662.29,949.00) scale(1.0302,1.0)" font-size="23.4" fill="#000" xml:space="preserve"><tspan>Gene-level SCNAs</tspan></text>
<rect x="1798.80" y="812.30" width="16.20" height="13.80" fill="#ed2024"/>
<rect x="1798.80" y="836.40" width="16.20" height="13.80" fill="#3e55a5"/>
<text transform="translate(1823.47,827.30) scale(1.0534,1.0)" font-size="23.4" fill="#000" xml:space="preserve"><tspan>Gain</tspan></text>
<text transform="translate(1823.50,850.70) scale(1.0689,1.0)" font-size="23.4" fill="#000" xml:space="preserve"><tspan>Loss</tspan></text>
<rect x="277.20" y="898.40" width="20.80" height="18.00" fill="#3e55a5" stroke="#000" stroke-width="1.8"/>
<text transform="translate(307.53,917.20) scale(1.0305,1.0)" font-size="23.4" fill="#000" xml:space="preserve"><tspan>log</tspan><tspan font-size="15.91" dy="6.2">2</tspan><tspan dy="-6.2">[CN] ≤ –0.4</tspan></text>
<rect x="524.50" y="898.40" width="20.80" height="18.00" fill="#abd9e9" stroke="#000" stroke-width="1.8"/>
<text transform="translate(555.70,917.20) scale(1.0152,1.0)" font-size="23.4" fill="#000" xml:space="preserve"><tspan>–0.4 &lt; log</tspan><tspan font-size="15.91" dy="6.2">2</tspan><tspan dy="-6.2">[CN] ≤ –0.1</tspan></text>
<rect x="857.30" y="898.40" width="20.80" height="18.00" fill="#f9a21b" stroke="#000" stroke-width="1.8"/>
<text transform="translate(887.63,917.20) scale(1.0388,1.0)" font-size="23.4" fill="#000" xml:space="preserve"><tspan>0.1 ≤ log</tspan><tspan font-size="15.91" dy="6.2">2</tspan><tspan dy="-6.2">[CN] &lt; 0.4</tspan></text>
<rect x="1160.00" y="898.40" width="20.80" height="18.00" fill="#ed2024" stroke="#000" stroke-width="1.8"/>
<text transform="translate(1189.83,917.20) scale(1.0338,1.0)" font-size="23.4" fill="#000" xml:space="preserve"><tspan>log</tspan><tspan font-size="15.91" dy="6.2">2</tspan><tspan dy="-6.2">[CN] ≥ 0.4</tspan></text>
</svg>
</body></html>
